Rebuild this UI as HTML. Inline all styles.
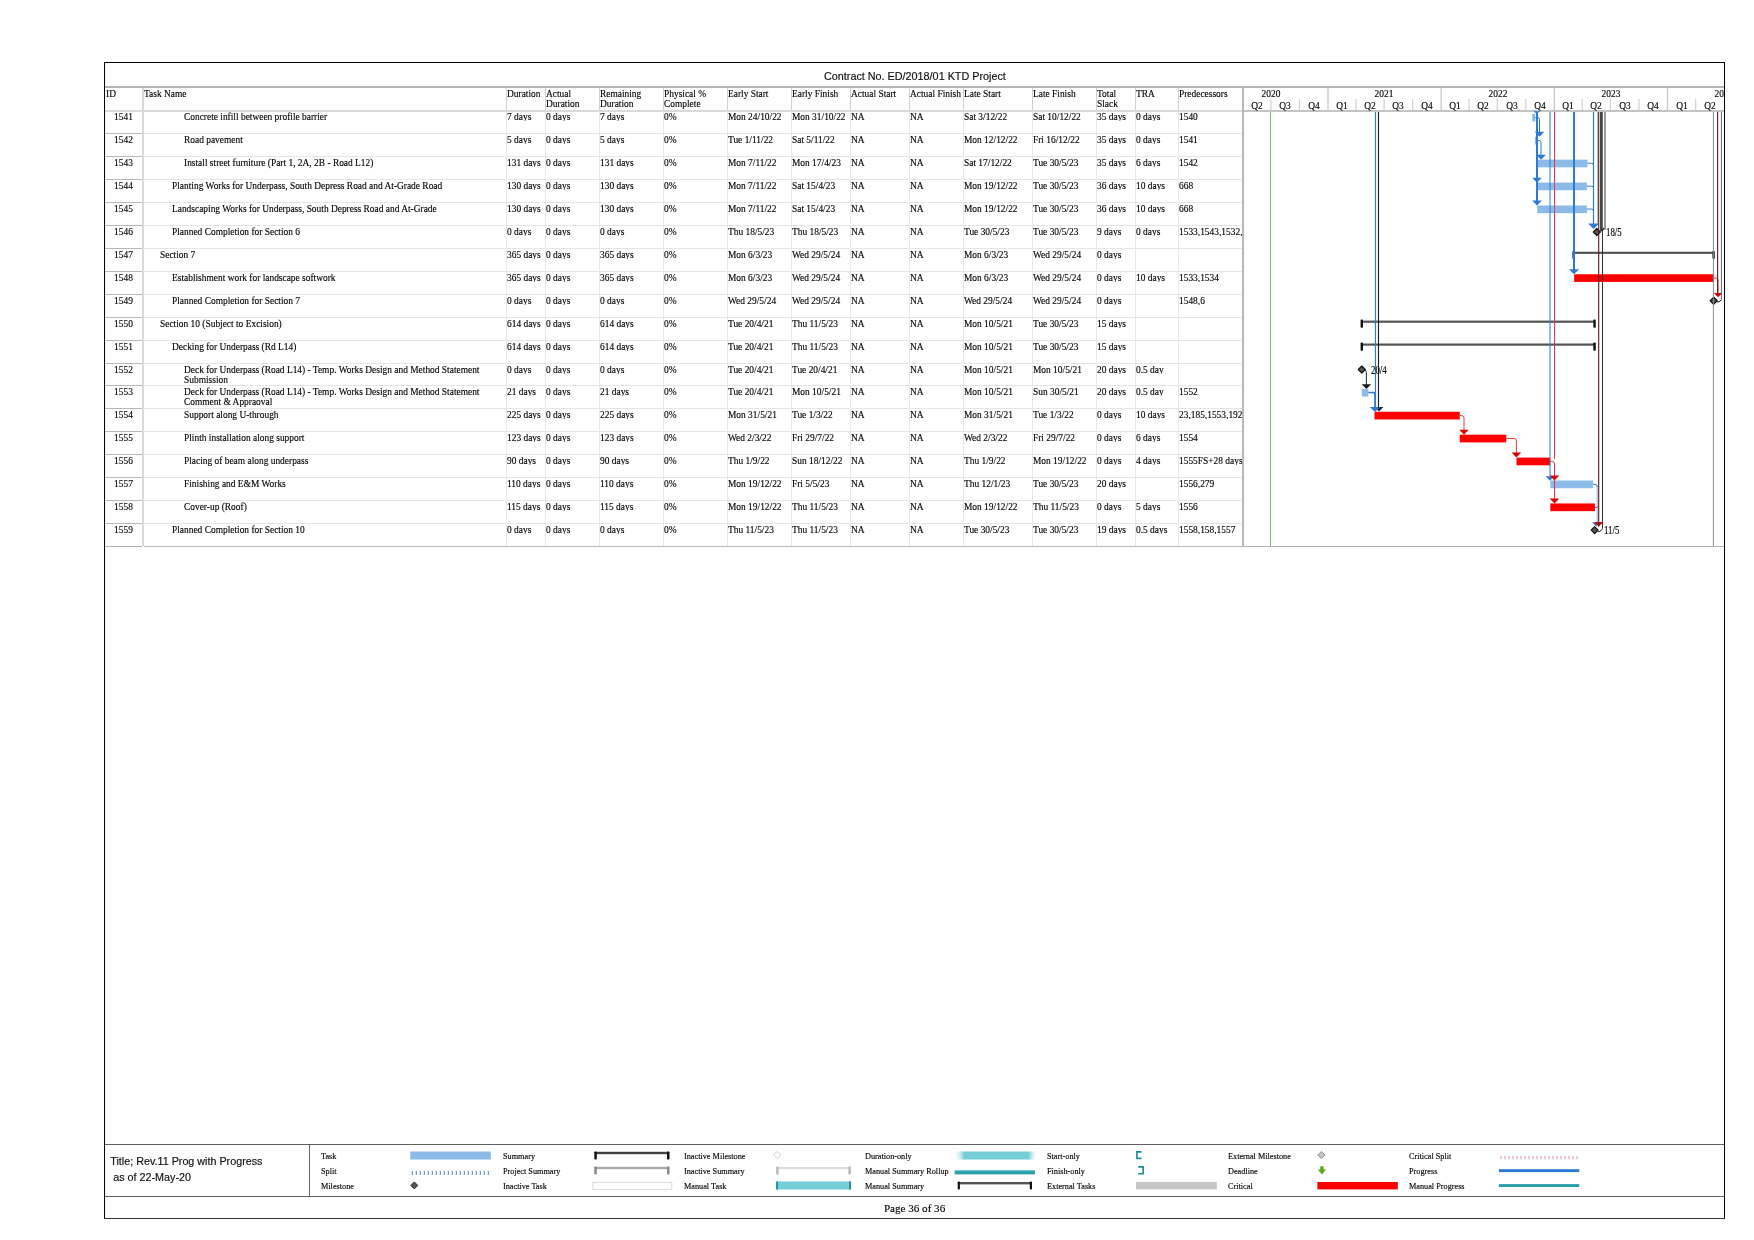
<!DOCTYPE html>
<html><head><meta charset="utf-8"><title>Gantt</title>
<style>
html,body{margin:0;padding:0;background:#fff;}
body{width:1754px;height:1240px;position:relative;overflow:hidden;}
.t{position:absolute;white-space:nowrap;transform-origin:0 0;color:#000;-webkit-text-stroke:0.15px #000;}
#tx{position:absolute;left:0;top:0;width:1754px;height:1240px;will-change:transform;}
.c{text-align:center;transform-origin:50% 0 !important;}
svg{position:absolute;left:0;top:0;}
</style></head><body>
<svg width="1754" height="1240" viewBox="0 0 1754 1240" shape-rendering="auto">
<rect x="105.00" y="86.00" width="1619.00" height="2.00" fill="#b4b4b4" />
<rect x="105.00" y="110.00" width="1137.00" height="2.00" fill="#d9d9d9" />
<rect x="1244.00" y="110.00" width="480.00" height="2.00" fill="#c4c4c4" />
<line x1="105.00" y1="133.50" x2="142.00" y2="133.50" stroke="#b8b8b8" stroke-width="1" />
<line x1="144.00" y1="133.50" x2="1242.00" y2="133.50" stroke="#e6e6e6" stroke-width="1" />
<line x1="105.00" y1="156.50" x2="142.00" y2="156.50" stroke="#b8b8b8" stroke-width="1" />
<line x1="144.00" y1="156.50" x2="1242.00" y2="156.50" stroke="#e6e6e6" stroke-width="1" />
<line x1="105.00" y1="179.50" x2="142.00" y2="179.50" stroke="#b8b8b8" stroke-width="1" />
<line x1="144.00" y1="179.50" x2="1242.00" y2="179.50" stroke="#e6e6e6" stroke-width="1" />
<line x1="105.00" y1="202.50" x2="142.00" y2="202.50" stroke="#b8b8b8" stroke-width="1" />
<line x1="144.00" y1="202.50" x2="1242.00" y2="202.50" stroke="#e6e6e6" stroke-width="1" />
<line x1="105.00" y1="225.50" x2="142.00" y2="225.50" stroke="#b8b8b8" stroke-width="1" />
<line x1="144.00" y1="225.50" x2="1242.00" y2="225.50" stroke="#e6e6e6" stroke-width="1" />
<line x1="105.00" y1="248.50" x2="142.00" y2="248.50" stroke="#b8b8b8" stroke-width="1" />
<line x1="144.00" y1="248.50" x2="1242.00" y2="248.50" stroke="#e6e6e6" stroke-width="1" />
<line x1="105.00" y1="271.50" x2="142.00" y2="271.50" stroke="#b8b8b8" stroke-width="1" />
<line x1="144.00" y1="271.50" x2="1242.00" y2="271.50" stroke="#e6e6e6" stroke-width="1" />
<line x1="105.00" y1="294.50" x2="142.00" y2="294.50" stroke="#b8b8b8" stroke-width="1" />
<line x1="144.00" y1="294.50" x2="1242.00" y2="294.50" stroke="#e6e6e6" stroke-width="1" />
<line x1="105.00" y1="317.50" x2="142.00" y2="317.50" stroke="#b8b8b8" stroke-width="1" />
<line x1="144.00" y1="317.50" x2="1242.00" y2="317.50" stroke="#e6e6e6" stroke-width="1" />
<line x1="105.00" y1="340.50" x2="142.00" y2="340.50" stroke="#b8b8b8" stroke-width="1" />
<line x1="144.00" y1="340.50" x2="1242.00" y2="340.50" stroke="#e6e6e6" stroke-width="1" />
<line x1="105.00" y1="363.50" x2="142.00" y2="363.50" stroke="#b8b8b8" stroke-width="1" />
<line x1="144.00" y1="363.50" x2="1242.00" y2="363.50" stroke="#e6e6e6" stroke-width="1" />
<line x1="105.00" y1="385.50" x2="142.00" y2="385.50" stroke="#b8b8b8" stroke-width="1" />
<line x1="144.00" y1="385.50" x2="1242.00" y2="385.50" stroke="#e6e6e6" stroke-width="1" />
<line x1="105.00" y1="408.50" x2="142.00" y2="408.50" stroke="#b8b8b8" stroke-width="1" />
<line x1="144.00" y1="408.50" x2="1242.00" y2="408.50" stroke="#e6e6e6" stroke-width="1" />
<line x1="105.00" y1="431.50" x2="142.00" y2="431.50" stroke="#b8b8b8" stroke-width="1" />
<line x1="144.00" y1="431.50" x2="1242.00" y2="431.50" stroke="#e6e6e6" stroke-width="1" />
<line x1="105.00" y1="454.50" x2="142.00" y2="454.50" stroke="#b8b8b8" stroke-width="1" />
<line x1="144.00" y1="454.50" x2="1242.00" y2="454.50" stroke="#e6e6e6" stroke-width="1" />
<line x1="105.00" y1="477.50" x2="142.00" y2="477.50" stroke="#b8b8b8" stroke-width="1" />
<line x1="144.00" y1="477.50" x2="1242.00" y2="477.50" stroke="#e6e6e6" stroke-width="1" />
<line x1="105.00" y1="500.50" x2="142.00" y2="500.50" stroke="#b8b8b8" stroke-width="1" />
<line x1="144.00" y1="500.50" x2="1242.00" y2="500.50" stroke="#e6e6e6" stroke-width="1" />
<line x1="105.00" y1="523.50" x2="142.00" y2="523.50" stroke="#b8b8b8" stroke-width="1" />
<line x1="144.00" y1="523.50" x2="1242.00" y2="523.50" stroke="#e6e6e6" stroke-width="1" />
<line x1="105.00" y1="546.50" x2="142.00" y2="546.50" stroke="#b0b0b0" stroke-width="1" />
<line x1="144.00" y1="546.50" x2="1242.00" y2="546.50" stroke="#b8b8b8" stroke-width="1" />
<rect x="142.00" y="88.00" width="2.00" height="458.00" fill="#d9d9d9" />
<line x1="506.50" y1="88.00" x2="506.50" y2="110.00" stroke="#d0d0d0" stroke-width="1" />
<line x1="506.50" y1="112.00" x2="506.50" y2="546.00" stroke="#e8e8e8" stroke-width="1" />
<line x1="545.50" y1="88.00" x2="545.50" y2="110.00" stroke="#d0d0d0" stroke-width="1" />
<line x1="545.50" y1="112.00" x2="545.50" y2="546.00" stroke="#e8e8e8" stroke-width="1" />
<line x1="599.50" y1="88.00" x2="599.50" y2="110.00" stroke="#d0d0d0" stroke-width="1" />
<line x1="599.50" y1="112.00" x2="599.50" y2="546.00" stroke="#e8e8e8" stroke-width="1" />
<line x1="663.50" y1="88.00" x2="663.50" y2="110.00" stroke="#d0d0d0" stroke-width="1" />
<line x1="663.50" y1="112.00" x2="663.50" y2="546.00" stroke="#e8e8e8" stroke-width="1" />
<line x1="727.50" y1="88.00" x2="727.50" y2="110.00" stroke="#d0d0d0" stroke-width="1" />
<line x1="727.50" y1="112.00" x2="727.50" y2="546.00" stroke="#e8e8e8" stroke-width="1" />
<line x1="791.50" y1="88.00" x2="791.50" y2="110.00" stroke="#d0d0d0" stroke-width="1" />
<line x1="791.50" y1="112.00" x2="791.50" y2="546.00" stroke="#e8e8e8" stroke-width="1" />
<line x1="850.50" y1="88.00" x2="850.50" y2="110.00" stroke="#d0d0d0" stroke-width="1" />
<line x1="850.50" y1="112.00" x2="850.50" y2="546.00" stroke="#e8e8e8" stroke-width="1" />
<line x1="909.50" y1="88.00" x2="909.50" y2="110.00" stroke="#d0d0d0" stroke-width="1" />
<line x1="909.50" y1="112.00" x2="909.50" y2="546.00" stroke="#e8e8e8" stroke-width="1" />
<line x1="963.50" y1="88.00" x2="963.50" y2="110.00" stroke="#d0d0d0" stroke-width="1" />
<line x1="963.50" y1="112.00" x2="963.50" y2="546.00" stroke="#e8e8e8" stroke-width="1" />
<line x1="1032.50" y1="88.00" x2="1032.50" y2="110.00" stroke="#d0d0d0" stroke-width="1" />
<line x1="1032.50" y1="112.00" x2="1032.50" y2="546.00" stroke="#e8e8e8" stroke-width="1" />
<line x1="1096.50" y1="88.00" x2="1096.50" y2="110.00" stroke="#d0d0d0" stroke-width="1" />
<line x1="1096.50" y1="112.00" x2="1096.50" y2="546.00" stroke="#e8e8e8" stroke-width="1" />
<line x1="1135.50" y1="88.00" x2="1135.50" y2="110.00" stroke="#d0d0d0" stroke-width="1" />
<line x1="1135.50" y1="112.00" x2="1135.50" y2="546.00" stroke="#e8e8e8" stroke-width="1" />
<line x1="1178.50" y1="88.00" x2="1178.50" y2="110.00" stroke="#d0d0d0" stroke-width="1" />
<line x1="1178.50" y1="112.00" x2="1178.50" y2="546.00" stroke="#e8e8e8" stroke-width="1" />
<line x1="1244.00" y1="546.50" x2="1724.00" y2="546.50" stroke="#b0b0b0" stroke-width="1" />
<rect x="1242.00" y="88.00" width="2.00" height="459.00" fill="#b8b8b8" />
<line x1="1328.00" y1="88.00" x2="1328.00" y2="110.00" stroke="#c8c8c8" stroke-width="1.3" />
<line x1="1441.17" y1="88.00" x2="1441.17" y2="110.00" stroke="#c8c8c8" stroke-width="1.3" />
<line x1="1554.33" y1="88.00" x2="1554.33" y2="110.00" stroke="#c8c8c8" stroke-width="1.3" />
<line x1="1667.50" y1="88.00" x2="1667.50" y2="110.00" stroke="#c8c8c8" stroke-width="1.3" />
<line x1="1270.95" y1="99.00" x2="1270.95" y2="110.00" stroke="#d0d0d0" stroke-width="1.2" />
<line x1="1299.48" y1="99.00" x2="1299.48" y2="110.00" stroke="#d0d0d0" stroke-width="1.2" />
<line x1="1355.90" y1="99.00" x2="1355.90" y2="110.00" stroke="#d0d0d0" stroke-width="1.2" />
<line x1="1384.12" y1="99.00" x2="1384.12" y2="110.00" stroke="#d0d0d0" stroke-width="1.2" />
<line x1="1412.64" y1="99.00" x2="1412.64" y2="110.00" stroke="#d0d0d0" stroke-width="1.2" />
<line x1="1469.07" y1="99.00" x2="1469.07" y2="110.00" stroke="#d0d0d0" stroke-width="1.2" />
<line x1="1497.28" y1="99.00" x2="1497.28" y2="110.00" stroke="#d0d0d0" stroke-width="1.2" />
<line x1="1525.81" y1="99.00" x2="1525.81" y2="110.00" stroke="#d0d0d0" stroke-width="1.2" />
<line x1="1582.24" y1="99.00" x2="1582.24" y2="110.00" stroke="#d0d0d0" stroke-width="1.2" />
<line x1="1610.45" y1="99.00" x2="1610.45" y2="110.00" stroke="#d0d0d0" stroke-width="1.2" />
<line x1="1638.98" y1="99.00" x2="1638.98" y2="110.00" stroke="#d0d0d0" stroke-width="1.2" />
<line x1="1695.71" y1="99.00" x2="1695.71" y2="110.00" stroke="#d0d0d0" stroke-width="1.2" />
<rect x="104.00" y="62.00" width="1621.00" height="1.00" fill="#000" />
<rect x="104.00" y="62.00" width="1.00" height="1157.00" fill="#000" />
<rect x="1724.00" y="62.00" width="1.00" height="1157.00" fill="#000" />
<rect x="104.00" y="1218.00" width="1621.00" height="1.00" fill="#333" />
<rect x="105.00" y="1144.00" width="1619.00" height="1.00" fill="#606060" />
<rect x="105.00" y="1196.00" width="1619.00" height="1.00" fill="#606060" />
<rect x="309.00" y="1145.00" width="1.00" height="51.00" fill="#666" />
<rect x="1532.30" y="113.80" width="3.00" height="7.70" fill="#8cbbea" />
<rect x="1534.90" y="136.72" width="2.30" height="7.70" fill="#8cbbea" />
<rect x="1537.28" y="159.64" width="50.23" height="7.70" fill="#8cbbea" />
<rect x="1537.28" y="182.56" width="49.61" height="7.70" fill="#8cbbea" />
<rect x="1537.28" y="205.48" width="49.61" height="7.70" fill="#8cbbea" />
<path d="M1533.10 111.20 L1540.10 111.20 L1536.60 113.60 Z" fill="#2b7bd6"/>
<path d="M1535.42 117.60 H1537.50 Q1539.50 117.60 1539.50 119.60 V133.72" stroke="#2b7bd6" stroke-width="1" fill="none" />
<path d="M1534.70 131.72 L1544.30 131.72 L1539.50 136.72 Z" fill="#2b7bd6"/>
<path d="M1536.97 140.52 H1539.00 Q1541.00 140.52 1541.00 142.52 V156.64" stroke="#2b7bd6" stroke-width="1" fill="none" />
<path d="M1536.20 154.64 L1545.80 154.64 L1541.00 159.64 Z" fill="#2b7bd6"/>
<path d="M1532.20 177.66 L1541.80 177.66 L1537.00 182.66 Z" fill="#2b7bd6"/>
<path d="M1532.20 200.58 L1541.80 200.58 L1537.00 205.58 Z" fill="#2b7bd6"/>
<path d="M1587.51 163.24 H1591.50 Q1593.5 163.24 1593.5 165.24" stroke="#2b7bd6" stroke-width="1" fill="none" />
<path d="M1586.89 186.16 H1591.50 Q1593.5 186.16 1593.5 188.16" stroke="#2b7bd6" stroke-width="1" fill="none" />
<path d="M1586.89 209.08 H1591.50 Q1593.5 209.08 1593.5 211.08" stroke="#2b7bd6" stroke-width="1" fill="none" />
<path d="M1588.10 223.40 L1599.10 223.40 L1593.60 229.00 Z" fill="#2b7bd6"/>
<path d="M1596.81 228.50 L1600.31 232.00 L1596.81 235.50 L1593.31 232.00 Z" fill="#555" stroke="#111" stroke-width="1.2" stroke-linejoin="round"/>
<path d="M1600.5 231.10 L1604.5 228.10" stroke="#111" stroke-width="1.6" fill="none" />
<rect x="1574.18" y="251.72" width="139.83" height="2.20" fill="#555" />
<rect x="1572.38" y="250.92" width="2.40" height="8.00" fill="#222" rx="0.8"/>
<rect x="1712.41" y="250.92" width="2.40" height="8.00" fill="#222" rx="0.8"/>
<path d="M1569.00 269.24 L1579.00 269.24 L1574.00 274.24 Z" fill="#2b7bd6"/>
<rect x="1574.18" y="274.24" width="139.83" height="7.70" fill="#ff0000" />
<path d="M1714.01 278.04 H1716.00 Q1718 278.04 1718 280.04 V293.86" stroke="#e83a3a" stroke-width="1" fill="none" />
<path d="M1713.80 293.06 L1722.20 293.06 L1718.00 297.26 Z" fill="#dd0000"/>
<path d="M1713.70 297.26 L1717.20 300.76 L1713.70 304.26 L1710.20 300.76 Z" fill="#555" stroke="#111" stroke-width="1.2" stroke-linejoin="round"/>
<path d="M1716.5 301.86 Q1719 302.86 1721.4 299.86" stroke="#111" stroke-width="1" fill="none" />
<rect x="1361.79" y="320.58" width="233.15" height="2.20" fill="#555" />
<rect x="1360.59" y="319.58" width="2.40" height="8.20" fill="#111" rx="0.8"/>
<rect x="1593.35" y="319.58" width="2.40" height="8.20" fill="#111" rx="0.8"/>
<rect x="1361.79" y="343.50" width="233.15" height="2.20" fill="#555" />
<rect x="1360.59" y="342.50" width="2.40" height="8.20" fill="#111" rx="0.8"/>
<rect x="1593.35" y="342.50" width="2.40" height="8.20" fill="#111" rx="0.8"/>
<path d="M1361.79 366.02 L1365.29 369.52 L1361.79 373.02 L1358.29 369.52 Z" fill="#555" stroke="#111" stroke-width="1.2" stroke-linejoin="round"/>
<path d="M1364.79 370.12 Q1366.39 370.52 1366.39 372.62 V385.54" stroke="#222" stroke-width="1" fill="none" />
<path d="M1361.59 384.14 L1371.19 384.14 L1366.39 388.94 Z" fill="#1a1a1a"/>
<rect x="1361.79" y="388.84" width="6.51" height="7.70" fill="#8cbbea" />
<path d="M1368.31 392.54 H1373.00 Q1375 392.54 1375 395.04 V407.96" stroke="#2b7bd6" stroke-width="1.6" fill="none" />
<path d="M1374.70 407.06 L1383.30 407.06 L1379.00 411.56 Z" fill="#1a1a1a"/>
<path d="M1369.80 406.96 L1380.20 406.96 L1375.00 411.96 Z" fill="#2b7bd6"/>
<rect x="1374.51" y="411.76" width="85.26" height="7.70" fill="#ff0000" />
<rect x="1459.77" y="434.68" width="46.51" height="7.70" fill="#ff0000" />
<rect x="1516.51" y="457.60" width="33.79" height="7.70" fill="#ff0000" />
<rect x="1550.30" y="480.52" width="42.79" height="7.70" fill="#8cbbea" />
<rect x="1550.30" y="503.44" width="44.65" height="7.70" fill="#ff0000" />
<path d="M1459.77 415.56 H1461.50 Q1464.00 415.56 1464.00 418.06 V431.68" stroke="#e83a3a" stroke-width="1" fill="none" />
<path d="M1459.20 429.68 L1468.80 429.68 L1464.00 434.68 Z" fill="#dd0000"/>
<path d="M1506.28 438.48 H1513.90 Q1516.40 438.48 1516.40 440.98 V454.60" stroke="#e83a3a" stroke-width="1" fill="none" />
<path d="M1511.60 452.60 L1521.20 452.60 L1516.40 457.60 Z" fill="#dd0000"/>
<path d="M1550.30 461.40 H1552.50 Q1554.5 461.40 1554.5 463.80 V500.14" stroke="#e83a3a" stroke-width="1" fill="none" />
<path d="M1545.60 476.22 L1554.40 476.22 L1550.00 480.72 Z" fill="#2b7bd6"/>
<path d="M1549.70 475.62 L1559.30 475.62 L1554.50 480.62 Z" fill="#dd0000"/>
<path d="M1549.70 498.54 L1559.30 498.54 L1554.50 503.54 Z" fill="#dd0000"/>
<path d="M1593.09 484.32 H1595.00 Q1597.2 484.32 1597.2 486.72" stroke="#2b7bd6" stroke-width="1" fill="none" />
<path d="M1594.95 507.24 H1598.50" stroke="#e83a3a" stroke-width="1" fill="none" />
<path d="M1592.00 522.26 L1600.40 522.26 L1596.20 526.46 Z" fill="#2b7bd6"/>
<path d="M1594.20 522.06 L1603.40 522.06 L1598.80 526.46 Z" fill="#dd0000"/>
<path d="M1594.64 526.66 L1598.14 530.16 L1594.64 533.66 L1591.14 530.16 Z" fill="#555" stroke="#111" stroke-width="1.2" stroke-linejoin="round"/>
<path d="M1597.64 531.06 Q1599.64 533.06 1602.50 528.56" stroke="#222" stroke-width="1" fill="none" />
<line x1="1270.50" y1="112.00" x2="1270.50" y2="546.00" stroke="#78b878" stroke-width="1" />
<line x1="1375.50" y1="112.00" x2="1375.50" y2="407.96" stroke="#2b7bd6" stroke-width="1.2" />
<line x1="1378.50" y1="112.00" x2="1378.50" y2="407.96" stroke="#1a1a1a" stroke-width="1.1" />
<line x1="1550.00" y1="112.00" x2="1550.00" y2="476.72" stroke="#2b7bd6" stroke-width="2" stroke-opacity="0.5"/>
<line x1="1554.50" y1="112.00" x2="1554.50" y2="458.80" stroke="#e83a3a" stroke-width="1" />
<line x1="1537.00" y1="112.00" x2="1537.00" y2="201.68" stroke="#2b7bd6" stroke-width="2" />
<line x1="1574.00" y1="112.00" x2="1574.00" y2="269.94" stroke="#2b7bd6" stroke-width="2" />
<line x1="1593.50" y1="112.00" x2="1593.50" y2="224.10" stroke="#2b7bd6" stroke-width="1.2" />
<line x1="1597.60" y1="112.00" x2="1597.60" y2="224.60" stroke="#2b7bd6" stroke-width="1.1" stroke-opacity="0.45"/>
<line x1="1597.20" y1="485.72" x2="1597.20" y2="522.56" stroke="#2b7bd6" stroke-width="1.2" stroke-opacity="0.5"/>
<line x1="1598.70" y1="112.00" x2="1598.70" y2="526.56" stroke="#5a1818" stroke-width="1.1" />
<rect x="1600.00" y="112.00" width="2.80" height="118.30" fill="#464646" />
<line x1="1602.50" y1="229.60" x2="1602.50" y2="528.56" stroke="#333" stroke-width="1" />
<line x1="1605.00" y1="112.00" x2="1605.00" y2="229.60" stroke="#7a7a7a" stroke-width="1.5" />
<line x1="1713.40" y1="112.00" x2="1713.40" y2="546.00" stroke="#8a8a8a" stroke-width="1" />
<line x1="1717.60" y1="112.00" x2="1717.60" y2="292.86" stroke="#5a1a1a" stroke-width="1.1" />
<line x1="1721.40" y1="112.00" x2="1721.40" y2="299.36" stroke="#6a6a6a" stroke-width="1" />
<rect x="410.30" y="1151.50" width="80.50" height="8.00" fill="#8cbbea" />
<rect x="411.80" y="1171.00" width="0.90" height="4.00" fill="#3a76a8" />
<rect x="415.80" y="1171.00" width="0.90" height="4.00" fill="#3a76a8" />
<rect x="419.80" y="1171.00" width="0.90" height="4.00" fill="#3a76a8" />
<rect x="423.80" y="1171.00" width="0.90" height="4.00" fill="#3a76a8" />
<rect x="427.80" y="1171.00" width="0.90" height="4.00" fill="#3a76a8" />
<rect x="431.80" y="1171.00" width="0.90" height="4.00" fill="#3a76a8" />
<rect x="435.80" y="1171.00" width="0.90" height="4.00" fill="#3a76a8" />
<rect x="439.80" y="1171.00" width="0.90" height="4.00" fill="#3a76a8" />
<rect x="443.80" y="1171.00" width="0.90" height="4.00" fill="#3a76a8" />
<rect x="447.80" y="1171.00" width="0.90" height="4.00" fill="#3a76a8" />
<rect x="451.80" y="1171.00" width="0.90" height="4.00" fill="#3a76a8" />
<rect x="455.80" y="1171.00" width="0.90" height="4.00" fill="#3a76a8" />
<rect x="459.80" y="1171.00" width="0.90" height="4.00" fill="#3a76a8" />
<rect x="463.80" y="1171.00" width="0.90" height="4.00" fill="#3a76a8" />
<rect x="467.80" y="1171.00" width="0.90" height="4.00" fill="#3a76a8" />
<rect x="471.80" y="1171.00" width="0.90" height="4.00" fill="#3a76a8" />
<rect x="475.80" y="1171.00" width="0.90" height="4.00" fill="#3a76a8" />
<rect x="479.80" y="1171.00" width="0.90" height="4.00" fill="#3a76a8" />
<rect x="483.80" y="1171.00" width="0.90" height="4.00" fill="#3a76a8" />
<rect x="487.80" y="1171.00" width="0.90" height="4.00" fill="#3a76a8" />
<path d="M414.30 1181.90 L417.80 1185.40 L414.30 1188.90 L410.80 1185.40 Z" fill="#555" stroke="#222" stroke-width="0.9" stroke-linejoin="round"/>
<rect x="595.50" y="1151.80" width="73.00" height="2.40" fill="#444" />
<rect x="594.30" y="1151.50" width="2.50" height="8.00" fill="#111" rx="0.8"/>
<rect x="667.00" y="1151.50" width="2.50" height="8.00" fill="#111" rx="0.8"/>
<rect x="595.50" y="1166.80" width="73.00" height="2.40" fill="#aaa" />
<rect x="594.30" y="1166.50" width="2.50" height="8.00" fill="#888" rx="0.8"/>
<rect x="667.00" y="1166.50" width="2.50" height="8.00" fill="#888" rx="0.8"/>
<rect x="592.8" y="1182.4" width="79" height="7" fill="#fff" stroke="#dcdcdc" stroke-width="1"/>
<path d="M777.20 1151.40 L780.80 1155.00 L777.20 1158.60 L773.60 1155.00 Z" fill="#fff" stroke="#cfcfcf" stroke-width="1" stroke-linejoin="round"/>
<rect x="777.50" y="1167.00" width="72.00" height="2.20" fill="#dcdcdc" />
<rect x="776.20" y="1166.50" width="2.40" height="8.00" fill="#b8b8b8" rx="0.8"/>
<rect x="848.40" y="1166.50" width="2.40" height="8.00" fill="#b8b8b8" rx="0.8"/>
<rect x="776.20" y="1181.50" width="74.70" height="8.00" fill="#75cdd6" />
<rect x="776.20" y="1181.50" width="1.80" height="8.00" fill="#1c8c96" />
<rect x="849.10" y="1181.50" width="1.80" height="8.00" fill="#1c8c96" />
<defs><linearGradient id="gd" x1="0" x2="1" y1="0" y2="0"><stop offset="0" stop-color="#ffffff"/><stop offset="0.06" stop-color="#d6f0f3"/><stop offset="0.12" stop-color="#75cdd6"/><stop offset="0.91" stop-color="#75cdd6"/><stop offset="0.97" stop-color="#d6f0f3"/><stop offset="1" stop-color="#ffffff"/></linearGradient></defs>
<rect x="954.7" y="1151.5" width="80.6" height="8" fill="url(#gd)"/>
<rect x="954.70" y="1170.40" width="80.20" height="4.00" fill="#2aa2ab" />
<rect x="958.80" y="1182.00" width="72.00" height="2.40" fill="#555" />
<rect x="957.70" y="1181.50" width="2.20" height="8.00" fill="#111" rx="0.8"/>
<rect x="1029.80" y="1181.50" width="2.20" height="8.00" fill="#111" rx="0.8"/>
<path d="M1141.5 1151.9 H1136.9 V1158.4 H1141.5" stroke="#1c8c96" stroke-width="1.6" fill="none" />
<path d="M1138.2 1166.9 H1143.2 V1173.8 H1138.2" stroke="#1c8c96" stroke-width="1.6" fill="none" />
<rect x="1136.00" y="1181.90" width="80.80" height="7.50" fill="#c6c6c6" />
<path d="M1321.40 1151.40 L1325.00 1155.00 L1321.40 1158.60 L1317.80 1155.00 Z" fill="#c4c4c4" stroke="#8a8a8a" stroke-width="0.9" stroke-linejoin="round"/>
<path d="M1320.2 1166.2 H1323.6 V1169.6 H1326 L1321.9 1174.4 L1317.8 1169.6 H1320.2 Z" fill="#5aaa1c"/>
<rect x="1317.40" y="1182.00" width="80.40" height="7.40" fill="#ff0000" />
<rect x="1500.60" y="1156.00" width="0.90" height="3.20" fill="#d9889a" />
<rect x="1504.60" y="1156.00" width="0.90" height="3.20" fill="#d9889a" />
<rect x="1508.60" y="1156.00" width="0.90" height="3.20" fill="#d9889a" />
<rect x="1512.60" y="1156.00" width="0.90" height="3.20" fill="#d9889a" />
<rect x="1516.60" y="1156.00" width="0.90" height="3.20" fill="#d9889a" />
<rect x="1520.60" y="1156.00" width="0.90" height="3.20" fill="#d9889a" />
<rect x="1524.60" y="1156.00" width="0.90" height="3.20" fill="#d9889a" />
<rect x="1528.60" y="1156.00" width="0.90" height="3.20" fill="#d9889a" />
<rect x="1532.60" y="1156.00" width="0.90" height="3.20" fill="#d9889a" />
<rect x="1536.60" y="1156.00" width="0.90" height="3.20" fill="#d9889a" />
<rect x="1540.60" y="1156.00" width="0.90" height="3.20" fill="#d9889a" />
<rect x="1544.60" y="1156.00" width="0.90" height="3.20" fill="#d9889a" />
<rect x="1548.60" y="1156.00" width="0.90" height="3.20" fill="#d9889a" />
<rect x="1552.60" y="1156.00" width="0.90" height="3.20" fill="#d9889a" />
<rect x="1556.60" y="1156.00" width="0.90" height="3.20" fill="#d9889a" />
<rect x="1560.60" y="1156.00" width="0.90" height="3.20" fill="#d9889a" />
<rect x="1564.60" y="1156.00" width="0.90" height="3.20" fill="#d9889a" />
<rect x="1568.60" y="1156.00" width="0.90" height="3.20" fill="#d9889a" />
<rect x="1572.60" y="1156.00" width="0.90" height="3.20" fill="#d9889a" />
<rect x="1576.60" y="1156.00" width="0.90" height="3.20" fill="#d9889a" />
<rect x="1498.90" y="1169.20" width="80.30" height="2.90" fill="#2b7bd6" />
<rect x="1498.90" y="1184.10" width="80.30" height="2.90" fill="#29a0a8" />
</svg>
<div id="tx">
<div class="t" style="left:824px;top:68.9px;font-family:'Liberation Sans',Arial,sans-serif;font-size:10.8px;line-height:14px;color:#111">Contract No. ED/2018/01 KTD Project</div>
<div class="t" style="left:105.60px;top:87.90px;font-size:11.0px;line-height:10.0px;transform:scaleX(0.855);font-family:'Liberation Serif','Times New Roman',serif;color:#000;">ID</div>
<div class="t" style="left:143.90px;top:87.90px;font-size:11.0px;line-height:10.0px;transform:scaleX(0.855);font-family:'Liberation Serif','Times New Roman',serif;color:#000;">Task Name</div>
<div class="t" style="left:506.90px;top:87.90px;font-size:11.0px;line-height:10.0px;transform:scaleX(0.855);font-family:'Liberation Serif','Times New Roman',serif;color:#000;">Duration</div>
<div class="t" style="left:545.90px;top:87.90px;font-size:11.0px;line-height:10.0px;transform:scaleX(0.855);font-family:'Liberation Serif','Times New Roman',serif;color:#000;">Actual<br>Duration</div>
<div class="t" style="left:599.90px;top:87.90px;font-size:11.0px;line-height:10.0px;transform:scaleX(0.855);font-family:'Liberation Serif','Times New Roman',serif;color:#000;">Remaining<br>Duration</div>
<div class="t" style="left:663.90px;top:87.90px;font-size:11.0px;line-height:10.0px;transform:scaleX(0.855);font-family:'Liberation Serif','Times New Roman',serif;color:#000;">Physical %<br>Complete</div>
<div class="t" style="left:727.90px;top:87.90px;font-size:11.0px;line-height:10.0px;transform:scaleX(0.855);font-family:'Liberation Serif','Times New Roman',serif;color:#000;">Early Start</div>
<div class="t" style="left:791.90px;top:87.90px;font-size:11.0px;line-height:10.0px;transform:scaleX(0.855);font-family:'Liberation Serif','Times New Roman',serif;color:#000;">Early Finish</div>
<div class="t" style="left:850.90px;top:87.90px;font-size:11.0px;line-height:10.0px;transform:scaleX(0.855);font-family:'Liberation Serif','Times New Roman',serif;color:#000;">Actual Start</div>
<div class="t" style="left:909.90px;top:87.90px;font-size:11.0px;line-height:10.0px;transform:scaleX(0.855);font-family:'Liberation Serif','Times New Roman',serif;color:#000;">Actual Finish</div>
<div class="t" style="left:963.90px;top:87.90px;font-size:11.0px;line-height:10.0px;transform:scaleX(0.855);font-family:'Liberation Serif','Times New Roman',serif;color:#000;">Late Start</div>
<div class="t" style="left:1032.90px;top:87.90px;font-size:11.0px;line-height:10.0px;transform:scaleX(0.855);font-family:'Liberation Serif','Times New Roman',serif;color:#000;">Late Finish</div>
<div class="t" style="left:1096.90px;top:87.90px;font-size:11.0px;line-height:10.0px;transform:scaleX(0.855);font-family:'Liberation Serif','Times New Roman',serif;color:#000;">Total<br>Slack</div>
<div class="t" style="left:1135.90px;top:87.90px;font-size:11.0px;line-height:10.0px;transform:scaleX(0.855);font-family:'Liberation Serif','Times New Roman',serif;color:#000;">TRA</div>
<div class="t" style="left:1178.90px;top:87.90px;font-size:11.0px;line-height:10.0px;transform:scaleX(0.855);font-family:'Liberation Serif','Times New Roman',serif;color:#000;">Predecessors</div>
<div style="position:absolute;left:1244px;top:87px;width:479.5px;height:24px;overflow:hidden">
<div style="position:absolute;left:-1244px;top:-87px;width:1754px;height:200px">
<div class="t c" style="left:1241.26px;width:60px;top:88.09px;font-size:11.0px;line-height:10.0px;transform:scaleX(0.855);font-family:'Liberation Serif','Times New Roman',serif">2020</div>
<div class="t c" style="left:1354.43px;width:60px;top:88.09px;font-size:11.0px;line-height:10.0px;transform:scaleX(0.855);font-family:'Liberation Serif','Times New Roman',serif">2021</div>
<div class="t c" style="left:1467.59px;width:60px;top:88.09px;font-size:11.0px;line-height:10.0px;transform:scaleX(0.855);font-family:'Liberation Serif','Times New Roman',serif">2022</div>
<div class="t c" style="left:1580.76px;width:60px;top:88.09px;font-size:11.0px;line-height:10.0px;transform:scaleX(0.855);font-family:'Liberation Serif','Times New Roman',serif">2023</div>
<div class="t c" style="left:1694.24px;width:60px;top:88.09px;font-size:11.0px;line-height:10.0px;transform:scaleX(0.855);font-family:'Liberation Serif','Times New Roman',serif">2024</div>
<div class="t c" style="left:1236.84px;width:40px;top:100.29px;font-size:11.0px;line-height:10.0px;transform:scaleX(0.855);font-family:'Liberation Serif','Times New Roman',serif">Q2</div>
<div class="t c" style="left:1265.21px;width:40px;top:100.29px;font-size:11.0px;line-height:10.0px;transform:scaleX(0.855);font-family:'Liberation Serif','Times New Roman',serif">Q3</div>
<div class="t c" style="left:1293.74px;width:40px;top:100.29px;font-size:11.0px;line-height:10.0px;transform:scaleX(0.855);font-family:'Liberation Serif','Times New Roman',serif">Q4</div>
<div class="t c" style="left:1321.95px;width:40px;top:100.29px;font-size:11.0px;line-height:10.0px;transform:scaleX(0.855);font-family:'Liberation Serif','Times New Roman',serif">Q1</div>
<div class="t c" style="left:1350.01px;width:40px;top:100.29px;font-size:11.0px;line-height:10.0px;transform:scaleX(0.855);font-family:'Liberation Serif','Times New Roman',serif">Q2</div>
<div class="t c" style="left:1378.38px;width:40px;top:100.29px;font-size:11.0px;line-height:10.0px;transform:scaleX(0.855);font-family:'Liberation Serif','Times New Roman',serif">Q3</div>
<div class="t c" style="left:1406.90px;width:40px;top:100.29px;font-size:11.0px;line-height:10.0px;transform:scaleX(0.855);font-family:'Liberation Serif','Times New Roman',serif">Q4</div>
<div class="t c" style="left:1435.12px;width:40px;top:100.29px;font-size:11.0px;line-height:10.0px;transform:scaleX(0.855);font-family:'Liberation Serif','Times New Roman',serif">Q1</div>
<div class="t c" style="left:1463.18px;width:40px;top:100.29px;font-size:11.0px;line-height:10.0px;transform:scaleX(0.855);font-family:'Liberation Serif','Times New Roman',serif">Q2</div>
<div class="t c" style="left:1491.55px;width:40px;top:100.29px;font-size:11.0px;line-height:10.0px;transform:scaleX(0.855);font-family:'Liberation Serif','Times New Roman',serif">Q3</div>
<div class="t c" style="left:1520.07px;width:40px;top:100.29px;font-size:11.0px;line-height:10.0px;transform:scaleX(0.855);font-family:'Liberation Serif','Times New Roman',serif">Q4</div>
<div class="t c" style="left:1548.29px;width:40px;top:100.29px;font-size:11.0px;line-height:10.0px;transform:scaleX(0.855);font-family:'Liberation Serif','Times New Roman',serif">Q1</div>
<div class="t c" style="left:1576.34px;width:40px;top:100.29px;font-size:11.0px;line-height:10.0px;transform:scaleX(0.855);font-family:'Liberation Serif','Times New Roman',serif">Q2</div>
<div class="t c" style="left:1604.71px;width:40px;top:100.29px;font-size:11.0px;line-height:10.0px;transform:scaleX(0.855);font-family:'Liberation Serif','Times New Roman',serif">Q3</div>
<div class="t c" style="left:1633.24px;width:40px;top:100.29px;font-size:11.0px;line-height:10.0px;transform:scaleX(0.855);font-family:'Liberation Serif','Times New Roman',serif">Q4</div>
<div class="t c" style="left:1661.61px;width:40px;top:100.29px;font-size:11.0px;line-height:10.0px;transform:scaleX(0.855);font-family:'Liberation Serif','Times New Roman',serif">Q1</div>
<div class="t c" style="left:1689.82px;width:40px;top:100.29px;font-size:11.0px;line-height:10.0px;transform:scaleX(0.855);font-family:'Liberation Serif','Times New Roman',serif">Q2</div>
</div></div>
<div class="t c" style="left:104px;width:39px;top:111.40px;font-size:11.0px;line-height:10.0px;transform:scaleX(0.855);font-family:'Liberation Serif','Times New Roman',serif">1541</div>
<div class="t" style="left:184.40px;top:111.40px;font-size:11.0px;line-height:10.0px;transform:scaleX(0.855);font-family:'Liberation Serif','Times New Roman',serif;color:#000;">Concrete infill between profile barrier</div>
<div class="t" style="left:507.00px;top:111.40px;font-size:11.0px;line-height:10.0px;transform:scaleX(0.855);font-family:'Liberation Serif','Times New Roman',serif;color:#000;width:43.74px;overflow:hidden;">7 days</div>
<div class="t" style="left:546.00px;top:111.40px;font-size:11.0px;line-height:10.0px;transform:scaleX(0.855);font-family:'Liberation Serif','Times New Roman',serif;color:#000;width:61.29px;overflow:hidden;">0 days</div>
<div class="t" style="left:600.00px;top:111.40px;font-size:11.0px;line-height:10.0px;transform:scaleX(0.855);font-family:'Liberation Serif','Times New Roman',serif;color:#000;width:72.98px;overflow:hidden;">7 days</div>
<div class="t" style="left:664.00px;top:111.40px;font-size:11.0px;line-height:10.0px;transform:scaleX(0.855);font-family:'Liberation Serif','Times New Roman',serif;color:#000;width:72.98px;overflow:hidden;">0%</div>
<div class="t" style="left:728.00px;top:111.40px;font-size:11.0px;line-height:10.0px;transform:scaleX(0.855);font-family:'Liberation Serif','Times New Roman',serif;color:#000;width:72.98px;overflow:hidden;">Mon 24/10/22</div>
<div class="t" style="left:792.00px;top:111.40px;font-size:11.0px;line-height:10.0px;transform:scaleX(0.855);font-family:'Liberation Serif','Times New Roman',serif;color:#000;width:67.13px;overflow:hidden;">Mon 31/10/22</div>
<div class="t" style="left:851.00px;top:111.40px;font-size:11.0px;line-height:10.0px;transform:scaleX(0.855);font-family:'Liberation Serif','Times New Roman',serif;color:#000;width:67.13px;overflow:hidden;">NA</div>
<div class="t" style="left:910.00px;top:111.40px;font-size:11.0px;line-height:10.0px;transform:scaleX(0.855);font-family:'Liberation Serif','Times New Roman',serif;color:#000;width:61.29px;overflow:hidden;">NA</div>
<div class="t" style="left:964.00px;top:111.40px;font-size:11.0px;line-height:10.0px;transform:scaleX(0.855);font-family:'Liberation Serif','Times New Roman',serif;color:#000;width:78.83px;overflow:hidden;">Sat 3/12/22</div>
<div class="t" style="left:1033.00px;top:111.40px;font-size:11.0px;line-height:10.0px;transform:scaleX(0.855);font-family:'Liberation Serif','Times New Roman',serif;color:#000;width:72.98px;overflow:hidden;">Sat 10/12/22</div>
<div class="t" style="left:1097.00px;top:111.40px;font-size:11.0px;line-height:10.0px;transform:scaleX(0.855);font-family:'Liberation Serif','Times New Roman',serif;color:#000;width:43.74px;overflow:hidden;">35 days</div>
<div class="t" style="left:1136.00px;top:111.40px;font-size:11.0px;line-height:10.0px;transform:scaleX(0.855);font-family:'Liberation Serif','Times New Roman',serif;color:#000;width:48.42px;overflow:hidden;">0 days</div>
<div class="t" style="left:1179.00px;top:111.40px;font-size:11.0px;line-height:10.0px;transform:scaleX(0.855);font-family:'Liberation Serif','Times New Roman',serif;color:#000;width:74.15px;overflow:hidden;">1540</div>
<div class="t c" style="left:104px;width:39px;top:134.32px;font-size:11.0px;line-height:10.0px;transform:scaleX(0.855);font-family:'Liberation Serif','Times New Roman',serif">1542</div>
<div class="t" style="left:184.40px;top:134.32px;font-size:11.0px;line-height:10.0px;transform:scaleX(0.855);font-family:'Liberation Serif','Times New Roman',serif;color:#000;">Road pavement</div>
<div class="t" style="left:507.00px;top:134.32px;font-size:11.0px;line-height:10.0px;transform:scaleX(0.855);font-family:'Liberation Serif','Times New Roman',serif;color:#000;width:43.74px;overflow:hidden;">5 days</div>
<div class="t" style="left:546.00px;top:134.32px;font-size:11.0px;line-height:10.0px;transform:scaleX(0.855);font-family:'Liberation Serif','Times New Roman',serif;color:#000;width:61.29px;overflow:hidden;">0 days</div>
<div class="t" style="left:600.00px;top:134.32px;font-size:11.0px;line-height:10.0px;transform:scaleX(0.855);font-family:'Liberation Serif','Times New Roman',serif;color:#000;width:72.98px;overflow:hidden;">5 days</div>
<div class="t" style="left:664.00px;top:134.32px;font-size:11.0px;line-height:10.0px;transform:scaleX(0.855);font-family:'Liberation Serif','Times New Roman',serif;color:#000;width:72.98px;overflow:hidden;">0%</div>
<div class="t" style="left:728.00px;top:134.32px;font-size:11.0px;line-height:10.0px;transform:scaleX(0.855);font-family:'Liberation Serif','Times New Roman',serif;color:#000;width:72.98px;overflow:hidden;">Tue 1/11/22</div>
<div class="t" style="left:792.00px;top:134.32px;font-size:11.0px;line-height:10.0px;transform:scaleX(0.855);font-family:'Liberation Serif','Times New Roman',serif;color:#000;width:67.13px;overflow:hidden;">Sat 5/11/22</div>
<div class="t" style="left:851.00px;top:134.32px;font-size:11.0px;line-height:10.0px;transform:scaleX(0.855);font-family:'Liberation Serif','Times New Roman',serif;color:#000;width:67.13px;overflow:hidden;">NA</div>
<div class="t" style="left:910.00px;top:134.32px;font-size:11.0px;line-height:10.0px;transform:scaleX(0.855);font-family:'Liberation Serif','Times New Roman',serif;color:#000;width:61.29px;overflow:hidden;">NA</div>
<div class="t" style="left:964.00px;top:134.32px;font-size:11.0px;line-height:10.0px;transform:scaleX(0.855);font-family:'Liberation Serif','Times New Roman',serif;color:#000;width:78.83px;overflow:hidden;">Mon 12/12/22</div>
<div class="t" style="left:1033.00px;top:134.32px;font-size:11.0px;line-height:10.0px;transform:scaleX(0.855);font-family:'Liberation Serif','Times New Roman',serif;color:#000;width:72.98px;overflow:hidden;">Fri 16/12/22</div>
<div class="t" style="left:1097.00px;top:134.32px;font-size:11.0px;line-height:10.0px;transform:scaleX(0.855);font-family:'Liberation Serif','Times New Roman',serif;color:#000;width:43.74px;overflow:hidden;">35 days</div>
<div class="t" style="left:1136.00px;top:134.32px;font-size:11.0px;line-height:10.0px;transform:scaleX(0.855);font-family:'Liberation Serif','Times New Roman',serif;color:#000;width:48.42px;overflow:hidden;">0 days</div>
<div class="t" style="left:1179.00px;top:134.32px;font-size:11.0px;line-height:10.0px;transform:scaleX(0.855);font-family:'Liberation Serif','Times New Roman',serif;color:#000;width:74.15px;overflow:hidden;">1541</div>
<div class="t c" style="left:104px;width:39px;top:157.24px;font-size:11.0px;line-height:10.0px;transform:scaleX(0.855);font-family:'Liberation Serif','Times New Roman',serif">1543</div>
<div class="t" style="left:184.40px;top:157.24px;font-size:11.0px;line-height:10.0px;transform:scaleX(0.855);font-family:'Liberation Serif','Times New Roman',serif;color:#000;">Install street furniture (Part 1, 2A, 2B - Road L12)</div>
<div class="t" style="left:507.00px;top:157.24px;font-size:11.0px;line-height:10.0px;transform:scaleX(0.855);font-family:'Liberation Serif','Times New Roman',serif;color:#000;width:43.74px;overflow:hidden;">131 days</div>
<div class="t" style="left:546.00px;top:157.24px;font-size:11.0px;line-height:10.0px;transform:scaleX(0.855);font-family:'Liberation Serif','Times New Roman',serif;color:#000;width:61.29px;overflow:hidden;">0 days</div>
<div class="t" style="left:600.00px;top:157.24px;font-size:11.0px;line-height:10.0px;transform:scaleX(0.855);font-family:'Liberation Serif','Times New Roman',serif;color:#000;width:72.98px;overflow:hidden;">131 days</div>
<div class="t" style="left:664.00px;top:157.24px;font-size:11.0px;line-height:10.0px;transform:scaleX(0.855);font-family:'Liberation Serif','Times New Roman',serif;color:#000;width:72.98px;overflow:hidden;">0%</div>
<div class="t" style="left:728.00px;top:157.24px;font-size:11.0px;line-height:10.0px;transform:scaleX(0.855);font-family:'Liberation Serif','Times New Roman',serif;color:#000;width:72.98px;overflow:hidden;">Mon 7/11/22</div>
<div class="t" style="left:792.00px;top:157.24px;font-size:11.0px;line-height:10.0px;transform:scaleX(0.855);font-family:'Liberation Serif','Times New Roman',serif;color:#000;width:67.13px;overflow:hidden;">Mon 17/4/23</div>
<div class="t" style="left:851.00px;top:157.24px;font-size:11.0px;line-height:10.0px;transform:scaleX(0.855);font-family:'Liberation Serif','Times New Roman',serif;color:#000;width:67.13px;overflow:hidden;">NA</div>
<div class="t" style="left:910.00px;top:157.24px;font-size:11.0px;line-height:10.0px;transform:scaleX(0.855);font-family:'Liberation Serif','Times New Roman',serif;color:#000;width:61.29px;overflow:hidden;">NA</div>
<div class="t" style="left:964.00px;top:157.24px;font-size:11.0px;line-height:10.0px;transform:scaleX(0.855);font-family:'Liberation Serif','Times New Roman',serif;color:#000;width:78.83px;overflow:hidden;">Sat 17/12/22</div>
<div class="t" style="left:1033.00px;top:157.24px;font-size:11.0px;line-height:10.0px;transform:scaleX(0.855);font-family:'Liberation Serif','Times New Roman',serif;color:#000;width:72.98px;overflow:hidden;">Tue 30/5/23</div>
<div class="t" style="left:1097.00px;top:157.24px;font-size:11.0px;line-height:10.0px;transform:scaleX(0.855);font-family:'Liberation Serif','Times New Roman',serif;color:#000;width:43.74px;overflow:hidden;">35 days</div>
<div class="t" style="left:1136.00px;top:157.24px;font-size:11.0px;line-height:10.0px;transform:scaleX(0.855);font-family:'Liberation Serif','Times New Roman',serif;color:#000;width:48.42px;overflow:hidden;">6 days</div>
<div class="t" style="left:1179.00px;top:157.24px;font-size:11.0px;line-height:10.0px;transform:scaleX(0.855);font-family:'Liberation Serif','Times New Roman',serif;color:#000;width:74.15px;overflow:hidden;">1542</div>
<div class="t c" style="left:104px;width:39px;top:180.16px;font-size:11.0px;line-height:10.0px;transform:scaleX(0.855);font-family:'Liberation Serif','Times New Roman',serif">1544</div>
<div class="t" style="left:172.30px;top:180.16px;font-size:11.0px;line-height:10.0px;transform:scaleX(0.855);font-family:'Liberation Serif','Times New Roman',serif;color:#000;">Planting Works for Underpass, South Depress Road and At-Grade Road</div>
<div class="t" style="left:507.00px;top:180.16px;font-size:11.0px;line-height:10.0px;transform:scaleX(0.855);font-family:'Liberation Serif','Times New Roman',serif;color:#000;width:43.74px;overflow:hidden;">130 days</div>
<div class="t" style="left:546.00px;top:180.16px;font-size:11.0px;line-height:10.0px;transform:scaleX(0.855);font-family:'Liberation Serif','Times New Roman',serif;color:#000;width:61.29px;overflow:hidden;">0 days</div>
<div class="t" style="left:600.00px;top:180.16px;font-size:11.0px;line-height:10.0px;transform:scaleX(0.855);font-family:'Liberation Serif','Times New Roman',serif;color:#000;width:72.98px;overflow:hidden;">130 days</div>
<div class="t" style="left:664.00px;top:180.16px;font-size:11.0px;line-height:10.0px;transform:scaleX(0.855);font-family:'Liberation Serif','Times New Roman',serif;color:#000;width:72.98px;overflow:hidden;">0%</div>
<div class="t" style="left:728.00px;top:180.16px;font-size:11.0px;line-height:10.0px;transform:scaleX(0.855);font-family:'Liberation Serif','Times New Roman',serif;color:#000;width:72.98px;overflow:hidden;">Mon 7/11/22</div>
<div class="t" style="left:792.00px;top:180.16px;font-size:11.0px;line-height:10.0px;transform:scaleX(0.855);font-family:'Liberation Serif','Times New Roman',serif;color:#000;width:67.13px;overflow:hidden;">Sat 15/4/23</div>
<div class="t" style="left:851.00px;top:180.16px;font-size:11.0px;line-height:10.0px;transform:scaleX(0.855);font-family:'Liberation Serif','Times New Roman',serif;color:#000;width:67.13px;overflow:hidden;">NA</div>
<div class="t" style="left:910.00px;top:180.16px;font-size:11.0px;line-height:10.0px;transform:scaleX(0.855);font-family:'Liberation Serif','Times New Roman',serif;color:#000;width:61.29px;overflow:hidden;">NA</div>
<div class="t" style="left:964.00px;top:180.16px;font-size:11.0px;line-height:10.0px;transform:scaleX(0.855);font-family:'Liberation Serif','Times New Roman',serif;color:#000;width:78.83px;overflow:hidden;">Mon 19/12/22</div>
<div class="t" style="left:1033.00px;top:180.16px;font-size:11.0px;line-height:10.0px;transform:scaleX(0.855);font-family:'Liberation Serif','Times New Roman',serif;color:#000;width:72.98px;overflow:hidden;">Tue 30/5/23</div>
<div class="t" style="left:1097.00px;top:180.16px;font-size:11.0px;line-height:10.0px;transform:scaleX(0.855);font-family:'Liberation Serif','Times New Roman',serif;color:#000;width:43.74px;overflow:hidden;">36 days</div>
<div class="t" style="left:1136.00px;top:180.16px;font-size:11.0px;line-height:10.0px;transform:scaleX(0.855);font-family:'Liberation Serif','Times New Roman',serif;color:#000;width:48.42px;overflow:hidden;">10 days</div>
<div class="t" style="left:1179.00px;top:180.16px;font-size:11.0px;line-height:10.0px;transform:scaleX(0.855);font-family:'Liberation Serif','Times New Roman',serif;color:#000;width:74.15px;overflow:hidden;">668</div>
<div class="t c" style="left:104px;width:39px;top:203.08px;font-size:11.0px;line-height:10.0px;transform:scaleX(0.855);font-family:'Liberation Serif','Times New Roman',serif">1545</div>
<div class="t" style="left:172.30px;top:203.08px;font-size:11.0px;line-height:10.0px;transform:scaleX(0.855);font-family:'Liberation Serif','Times New Roman',serif;color:#000;">Landscaping Works for Underpass, South Depress Road and At-Grade</div>
<div class="t" style="left:507.00px;top:203.08px;font-size:11.0px;line-height:10.0px;transform:scaleX(0.855);font-family:'Liberation Serif','Times New Roman',serif;color:#000;width:43.74px;overflow:hidden;">130 days</div>
<div class="t" style="left:546.00px;top:203.08px;font-size:11.0px;line-height:10.0px;transform:scaleX(0.855);font-family:'Liberation Serif','Times New Roman',serif;color:#000;width:61.29px;overflow:hidden;">0 days</div>
<div class="t" style="left:600.00px;top:203.08px;font-size:11.0px;line-height:10.0px;transform:scaleX(0.855);font-family:'Liberation Serif','Times New Roman',serif;color:#000;width:72.98px;overflow:hidden;">130 days</div>
<div class="t" style="left:664.00px;top:203.08px;font-size:11.0px;line-height:10.0px;transform:scaleX(0.855);font-family:'Liberation Serif','Times New Roman',serif;color:#000;width:72.98px;overflow:hidden;">0%</div>
<div class="t" style="left:728.00px;top:203.08px;font-size:11.0px;line-height:10.0px;transform:scaleX(0.855);font-family:'Liberation Serif','Times New Roman',serif;color:#000;width:72.98px;overflow:hidden;">Mon 7/11/22</div>
<div class="t" style="left:792.00px;top:203.08px;font-size:11.0px;line-height:10.0px;transform:scaleX(0.855);font-family:'Liberation Serif','Times New Roman',serif;color:#000;width:67.13px;overflow:hidden;">Sat 15/4/23</div>
<div class="t" style="left:851.00px;top:203.08px;font-size:11.0px;line-height:10.0px;transform:scaleX(0.855);font-family:'Liberation Serif','Times New Roman',serif;color:#000;width:67.13px;overflow:hidden;">NA</div>
<div class="t" style="left:910.00px;top:203.08px;font-size:11.0px;line-height:10.0px;transform:scaleX(0.855);font-family:'Liberation Serif','Times New Roman',serif;color:#000;width:61.29px;overflow:hidden;">NA</div>
<div class="t" style="left:964.00px;top:203.08px;font-size:11.0px;line-height:10.0px;transform:scaleX(0.855);font-family:'Liberation Serif','Times New Roman',serif;color:#000;width:78.83px;overflow:hidden;">Mon 19/12/22</div>
<div class="t" style="left:1033.00px;top:203.08px;font-size:11.0px;line-height:10.0px;transform:scaleX(0.855);font-family:'Liberation Serif','Times New Roman',serif;color:#000;width:72.98px;overflow:hidden;">Tue 30/5/23</div>
<div class="t" style="left:1097.00px;top:203.08px;font-size:11.0px;line-height:10.0px;transform:scaleX(0.855);font-family:'Liberation Serif','Times New Roman',serif;color:#000;width:43.74px;overflow:hidden;">36 days</div>
<div class="t" style="left:1136.00px;top:203.08px;font-size:11.0px;line-height:10.0px;transform:scaleX(0.855);font-family:'Liberation Serif','Times New Roman',serif;color:#000;width:48.42px;overflow:hidden;">10 days</div>
<div class="t" style="left:1179.00px;top:203.08px;font-size:11.0px;line-height:10.0px;transform:scaleX(0.855);font-family:'Liberation Serif','Times New Roman',serif;color:#000;width:74.15px;overflow:hidden;">668</div>
<div class="t c" style="left:104px;width:39px;top:226.00px;font-size:11.0px;line-height:10.0px;transform:scaleX(0.855);font-family:'Liberation Serif','Times New Roman',serif">1546</div>
<div class="t" style="left:172.30px;top:226.00px;font-size:11.0px;line-height:10.0px;transform:scaleX(0.855);font-family:'Liberation Serif','Times New Roman',serif;color:#000;">Planned Completion for Section 6</div>
<div class="t" style="left:507.00px;top:226.00px;font-size:11.0px;line-height:10.0px;transform:scaleX(0.855);font-family:'Liberation Serif','Times New Roman',serif;color:#000;width:43.74px;overflow:hidden;">0 days</div>
<div class="t" style="left:546.00px;top:226.00px;font-size:11.0px;line-height:10.0px;transform:scaleX(0.855);font-family:'Liberation Serif','Times New Roman',serif;color:#000;width:61.29px;overflow:hidden;">0 days</div>
<div class="t" style="left:600.00px;top:226.00px;font-size:11.0px;line-height:10.0px;transform:scaleX(0.855);font-family:'Liberation Serif','Times New Roman',serif;color:#000;width:72.98px;overflow:hidden;">0 days</div>
<div class="t" style="left:664.00px;top:226.00px;font-size:11.0px;line-height:10.0px;transform:scaleX(0.855);font-family:'Liberation Serif','Times New Roman',serif;color:#000;width:72.98px;overflow:hidden;">0%</div>
<div class="t" style="left:728.00px;top:226.00px;font-size:11.0px;line-height:10.0px;transform:scaleX(0.855);font-family:'Liberation Serif','Times New Roman',serif;color:#000;width:72.98px;overflow:hidden;">Thu 18/5/23</div>
<div class="t" style="left:792.00px;top:226.00px;font-size:11.0px;line-height:10.0px;transform:scaleX(0.855);font-family:'Liberation Serif','Times New Roman',serif;color:#000;width:67.13px;overflow:hidden;">Thu 18/5/23</div>
<div class="t" style="left:851.00px;top:226.00px;font-size:11.0px;line-height:10.0px;transform:scaleX(0.855);font-family:'Liberation Serif','Times New Roman',serif;color:#000;width:67.13px;overflow:hidden;">NA</div>
<div class="t" style="left:910.00px;top:226.00px;font-size:11.0px;line-height:10.0px;transform:scaleX(0.855);font-family:'Liberation Serif','Times New Roman',serif;color:#000;width:61.29px;overflow:hidden;">NA</div>
<div class="t" style="left:964.00px;top:226.00px;font-size:11.0px;line-height:10.0px;transform:scaleX(0.855);font-family:'Liberation Serif','Times New Roman',serif;color:#000;width:78.83px;overflow:hidden;">Tue 30/5/23</div>
<div class="t" style="left:1033.00px;top:226.00px;font-size:11.0px;line-height:10.0px;transform:scaleX(0.855);font-family:'Liberation Serif','Times New Roman',serif;color:#000;width:72.98px;overflow:hidden;">Tue 30/5/23</div>
<div class="t" style="left:1097.00px;top:226.00px;font-size:11.0px;line-height:10.0px;transform:scaleX(0.855);font-family:'Liberation Serif','Times New Roman',serif;color:#000;width:43.74px;overflow:hidden;">9 days</div>
<div class="t" style="left:1136.00px;top:226.00px;font-size:11.0px;line-height:10.0px;transform:scaleX(0.855);font-family:'Liberation Serif','Times New Roman',serif;color:#000;width:48.42px;overflow:hidden;">0 days</div>
<div class="t" style="left:1179.00px;top:226.00px;font-size:11.0px;line-height:10.0px;transform:scaleX(0.855);font-family:'Liberation Serif','Times New Roman',serif;color:#000;width:74.15px;overflow:hidden;">1533,1543,1532,1544</div>
<div class="t c" style="left:104px;width:39px;top:248.92px;font-size:11.0px;line-height:10.0px;transform:scaleX(0.855);font-family:'Liberation Serif','Times New Roman',serif">1547</div>
<div class="t" style="left:160.20px;top:248.92px;font-size:11.0px;line-height:10.0px;transform:scaleX(0.855);font-family:'Liberation Serif','Times New Roman',serif;color:#000;">Section 7</div>
<div class="t" style="left:507.00px;top:248.92px;font-size:11.0px;line-height:10.0px;transform:scaleX(0.855);font-family:'Liberation Serif','Times New Roman',serif;color:#000;width:43.74px;overflow:hidden;">365 days</div>
<div class="t" style="left:546.00px;top:248.92px;font-size:11.0px;line-height:10.0px;transform:scaleX(0.855);font-family:'Liberation Serif','Times New Roman',serif;color:#000;width:61.29px;overflow:hidden;">0 days</div>
<div class="t" style="left:600.00px;top:248.92px;font-size:11.0px;line-height:10.0px;transform:scaleX(0.855);font-family:'Liberation Serif','Times New Roman',serif;color:#000;width:72.98px;overflow:hidden;">365 days</div>
<div class="t" style="left:664.00px;top:248.92px;font-size:11.0px;line-height:10.0px;transform:scaleX(0.855);font-family:'Liberation Serif','Times New Roman',serif;color:#000;width:72.98px;overflow:hidden;">0%</div>
<div class="t" style="left:728.00px;top:248.92px;font-size:11.0px;line-height:10.0px;transform:scaleX(0.855);font-family:'Liberation Serif','Times New Roman',serif;color:#000;width:72.98px;overflow:hidden;">Mon 6/3/23</div>
<div class="t" style="left:792.00px;top:248.92px;font-size:11.0px;line-height:10.0px;transform:scaleX(0.855);font-family:'Liberation Serif','Times New Roman',serif;color:#000;width:67.13px;overflow:hidden;">Wed 29/5/24</div>
<div class="t" style="left:851.00px;top:248.92px;font-size:11.0px;line-height:10.0px;transform:scaleX(0.855);font-family:'Liberation Serif','Times New Roman',serif;color:#000;width:67.13px;overflow:hidden;">NA</div>
<div class="t" style="left:910.00px;top:248.92px;font-size:11.0px;line-height:10.0px;transform:scaleX(0.855);font-family:'Liberation Serif','Times New Roman',serif;color:#000;width:61.29px;overflow:hidden;">NA</div>
<div class="t" style="left:964.00px;top:248.92px;font-size:11.0px;line-height:10.0px;transform:scaleX(0.855);font-family:'Liberation Serif','Times New Roman',serif;color:#000;width:78.83px;overflow:hidden;">Mon 6/3/23</div>
<div class="t" style="left:1033.00px;top:248.92px;font-size:11.0px;line-height:10.0px;transform:scaleX(0.855);font-family:'Liberation Serif','Times New Roman',serif;color:#000;width:72.98px;overflow:hidden;">Wed 29/5/24</div>
<div class="t" style="left:1097.00px;top:248.92px;font-size:11.0px;line-height:10.0px;transform:scaleX(0.855);font-family:'Liberation Serif','Times New Roman',serif;color:#000;width:43.74px;overflow:hidden;">0 days</div>
<div class="t c" style="left:104px;width:39px;top:271.84px;font-size:11.0px;line-height:10.0px;transform:scaleX(0.855);font-family:'Liberation Serif','Times New Roman',serif">1548</div>
<div class="t" style="left:172.30px;top:271.84px;font-size:11.0px;line-height:10.0px;transform:scaleX(0.855);font-family:'Liberation Serif','Times New Roman',serif;color:#000;">Establishment work for landscape softwork</div>
<div class="t" style="left:507.00px;top:271.84px;font-size:11.0px;line-height:10.0px;transform:scaleX(0.855);font-family:'Liberation Serif','Times New Roman',serif;color:#000;width:43.74px;overflow:hidden;">365 days</div>
<div class="t" style="left:546.00px;top:271.84px;font-size:11.0px;line-height:10.0px;transform:scaleX(0.855);font-family:'Liberation Serif','Times New Roman',serif;color:#000;width:61.29px;overflow:hidden;">0 days</div>
<div class="t" style="left:600.00px;top:271.84px;font-size:11.0px;line-height:10.0px;transform:scaleX(0.855);font-family:'Liberation Serif','Times New Roman',serif;color:#000;width:72.98px;overflow:hidden;">365 days</div>
<div class="t" style="left:664.00px;top:271.84px;font-size:11.0px;line-height:10.0px;transform:scaleX(0.855);font-family:'Liberation Serif','Times New Roman',serif;color:#000;width:72.98px;overflow:hidden;">0%</div>
<div class="t" style="left:728.00px;top:271.84px;font-size:11.0px;line-height:10.0px;transform:scaleX(0.855);font-family:'Liberation Serif','Times New Roman',serif;color:#000;width:72.98px;overflow:hidden;">Mon 6/3/23</div>
<div class="t" style="left:792.00px;top:271.84px;font-size:11.0px;line-height:10.0px;transform:scaleX(0.855);font-family:'Liberation Serif','Times New Roman',serif;color:#000;width:67.13px;overflow:hidden;">Wed 29/5/24</div>
<div class="t" style="left:851.00px;top:271.84px;font-size:11.0px;line-height:10.0px;transform:scaleX(0.855);font-family:'Liberation Serif','Times New Roman',serif;color:#000;width:67.13px;overflow:hidden;">NA</div>
<div class="t" style="left:910.00px;top:271.84px;font-size:11.0px;line-height:10.0px;transform:scaleX(0.855);font-family:'Liberation Serif','Times New Roman',serif;color:#000;width:61.29px;overflow:hidden;">NA</div>
<div class="t" style="left:964.00px;top:271.84px;font-size:11.0px;line-height:10.0px;transform:scaleX(0.855);font-family:'Liberation Serif','Times New Roman',serif;color:#000;width:78.83px;overflow:hidden;">Mon 6/3/23</div>
<div class="t" style="left:1033.00px;top:271.84px;font-size:11.0px;line-height:10.0px;transform:scaleX(0.855);font-family:'Liberation Serif','Times New Roman',serif;color:#000;width:72.98px;overflow:hidden;">Wed 29/5/24</div>
<div class="t" style="left:1097.00px;top:271.84px;font-size:11.0px;line-height:10.0px;transform:scaleX(0.855);font-family:'Liberation Serif','Times New Roman',serif;color:#000;width:43.74px;overflow:hidden;">0 days</div>
<div class="t" style="left:1136.00px;top:271.84px;font-size:11.0px;line-height:10.0px;transform:scaleX(0.855);font-family:'Liberation Serif','Times New Roman',serif;color:#000;width:48.42px;overflow:hidden;">10 days</div>
<div class="t" style="left:1179.00px;top:271.84px;font-size:11.0px;line-height:10.0px;transform:scaleX(0.855);font-family:'Liberation Serif','Times New Roman',serif;color:#000;width:74.15px;overflow:hidden;">1533,1534</div>
<div class="t c" style="left:104px;width:39px;top:294.76px;font-size:11.0px;line-height:10.0px;transform:scaleX(0.855);font-family:'Liberation Serif','Times New Roman',serif">1549</div>
<div class="t" style="left:172.30px;top:294.76px;font-size:11.0px;line-height:10.0px;transform:scaleX(0.855);font-family:'Liberation Serif','Times New Roman',serif;color:#000;">Planned Completion for Section 7</div>
<div class="t" style="left:507.00px;top:294.76px;font-size:11.0px;line-height:10.0px;transform:scaleX(0.855);font-family:'Liberation Serif','Times New Roman',serif;color:#000;width:43.74px;overflow:hidden;">0 days</div>
<div class="t" style="left:546.00px;top:294.76px;font-size:11.0px;line-height:10.0px;transform:scaleX(0.855);font-family:'Liberation Serif','Times New Roman',serif;color:#000;width:61.29px;overflow:hidden;">0 days</div>
<div class="t" style="left:600.00px;top:294.76px;font-size:11.0px;line-height:10.0px;transform:scaleX(0.855);font-family:'Liberation Serif','Times New Roman',serif;color:#000;width:72.98px;overflow:hidden;">0 days</div>
<div class="t" style="left:664.00px;top:294.76px;font-size:11.0px;line-height:10.0px;transform:scaleX(0.855);font-family:'Liberation Serif','Times New Roman',serif;color:#000;width:72.98px;overflow:hidden;">0%</div>
<div class="t" style="left:728.00px;top:294.76px;font-size:11.0px;line-height:10.0px;transform:scaleX(0.855);font-family:'Liberation Serif','Times New Roman',serif;color:#000;width:72.98px;overflow:hidden;">Wed 29/5/24</div>
<div class="t" style="left:792.00px;top:294.76px;font-size:11.0px;line-height:10.0px;transform:scaleX(0.855);font-family:'Liberation Serif','Times New Roman',serif;color:#000;width:67.13px;overflow:hidden;">Wed 29/5/24</div>
<div class="t" style="left:851.00px;top:294.76px;font-size:11.0px;line-height:10.0px;transform:scaleX(0.855);font-family:'Liberation Serif','Times New Roman',serif;color:#000;width:67.13px;overflow:hidden;">NA</div>
<div class="t" style="left:910.00px;top:294.76px;font-size:11.0px;line-height:10.0px;transform:scaleX(0.855);font-family:'Liberation Serif','Times New Roman',serif;color:#000;width:61.29px;overflow:hidden;">NA</div>
<div class="t" style="left:964.00px;top:294.76px;font-size:11.0px;line-height:10.0px;transform:scaleX(0.855);font-family:'Liberation Serif','Times New Roman',serif;color:#000;width:78.83px;overflow:hidden;">Wed 29/5/24</div>
<div class="t" style="left:1033.00px;top:294.76px;font-size:11.0px;line-height:10.0px;transform:scaleX(0.855);font-family:'Liberation Serif','Times New Roman',serif;color:#000;width:72.98px;overflow:hidden;">Wed 29/5/24</div>
<div class="t" style="left:1097.00px;top:294.76px;font-size:11.0px;line-height:10.0px;transform:scaleX(0.855);font-family:'Liberation Serif','Times New Roman',serif;color:#000;width:43.74px;overflow:hidden;">0 days</div>
<div class="t" style="left:1179.00px;top:294.76px;font-size:11.0px;line-height:10.0px;transform:scaleX(0.855);font-family:'Liberation Serif','Times New Roman',serif;color:#000;width:74.15px;overflow:hidden;">1548,6</div>
<div class="t c" style="left:104px;width:39px;top:317.68px;font-size:11.0px;line-height:10.0px;transform:scaleX(0.855);font-family:'Liberation Serif','Times New Roman',serif">1550</div>
<div class="t" style="left:160.20px;top:317.68px;font-size:11.0px;line-height:10.0px;transform:scaleX(0.855);font-family:'Liberation Serif','Times New Roman',serif;color:#000;">Section 10 (Subject to Excision)</div>
<div class="t" style="left:507.00px;top:317.68px;font-size:11.0px;line-height:10.0px;transform:scaleX(0.855);font-family:'Liberation Serif','Times New Roman',serif;color:#000;width:43.74px;overflow:hidden;">614 days</div>
<div class="t" style="left:546.00px;top:317.68px;font-size:11.0px;line-height:10.0px;transform:scaleX(0.855);font-family:'Liberation Serif','Times New Roman',serif;color:#000;width:61.29px;overflow:hidden;">0 days</div>
<div class="t" style="left:600.00px;top:317.68px;font-size:11.0px;line-height:10.0px;transform:scaleX(0.855);font-family:'Liberation Serif','Times New Roman',serif;color:#000;width:72.98px;overflow:hidden;">614 days</div>
<div class="t" style="left:664.00px;top:317.68px;font-size:11.0px;line-height:10.0px;transform:scaleX(0.855);font-family:'Liberation Serif','Times New Roman',serif;color:#000;width:72.98px;overflow:hidden;">0%</div>
<div class="t" style="left:728.00px;top:317.68px;font-size:11.0px;line-height:10.0px;transform:scaleX(0.855);font-family:'Liberation Serif','Times New Roman',serif;color:#000;width:72.98px;overflow:hidden;">Tue 20/4/21</div>
<div class="t" style="left:792.00px;top:317.68px;font-size:11.0px;line-height:10.0px;transform:scaleX(0.855);font-family:'Liberation Serif','Times New Roman',serif;color:#000;width:67.13px;overflow:hidden;">Thu 11/5/23</div>
<div class="t" style="left:851.00px;top:317.68px;font-size:11.0px;line-height:10.0px;transform:scaleX(0.855);font-family:'Liberation Serif','Times New Roman',serif;color:#000;width:67.13px;overflow:hidden;">NA</div>
<div class="t" style="left:910.00px;top:317.68px;font-size:11.0px;line-height:10.0px;transform:scaleX(0.855);font-family:'Liberation Serif','Times New Roman',serif;color:#000;width:61.29px;overflow:hidden;">NA</div>
<div class="t" style="left:964.00px;top:317.68px;font-size:11.0px;line-height:10.0px;transform:scaleX(0.855);font-family:'Liberation Serif','Times New Roman',serif;color:#000;width:78.83px;overflow:hidden;">Mon 10/5/21</div>
<div class="t" style="left:1033.00px;top:317.68px;font-size:11.0px;line-height:10.0px;transform:scaleX(0.855);font-family:'Liberation Serif','Times New Roman',serif;color:#000;width:72.98px;overflow:hidden;">Tue 30/5/23</div>
<div class="t" style="left:1097.00px;top:317.68px;font-size:11.0px;line-height:10.0px;transform:scaleX(0.855);font-family:'Liberation Serif','Times New Roman',serif;color:#000;width:43.74px;overflow:hidden;">15 days</div>
<div class="t c" style="left:104px;width:39px;top:340.60px;font-size:11.0px;line-height:10.0px;transform:scaleX(0.855);font-family:'Liberation Serif','Times New Roman',serif">1551</div>
<div class="t" style="left:172.30px;top:340.60px;font-size:11.0px;line-height:10.0px;transform:scaleX(0.855);font-family:'Liberation Serif','Times New Roman',serif;color:#000;">Decking for Underpass (Rd L14)</div>
<div class="t" style="left:507.00px;top:340.60px;font-size:11.0px;line-height:10.0px;transform:scaleX(0.855);font-family:'Liberation Serif','Times New Roman',serif;color:#000;width:43.74px;overflow:hidden;">614 days</div>
<div class="t" style="left:546.00px;top:340.60px;font-size:11.0px;line-height:10.0px;transform:scaleX(0.855);font-family:'Liberation Serif','Times New Roman',serif;color:#000;width:61.29px;overflow:hidden;">0 days</div>
<div class="t" style="left:600.00px;top:340.60px;font-size:11.0px;line-height:10.0px;transform:scaleX(0.855);font-family:'Liberation Serif','Times New Roman',serif;color:#000;width:72.98px;overflow:hidden;">614 days</div>
<div class="t" style="left:664.00px;top:340.60px;font-size:11.0px;line-height:10.0px;transform:scaleX(0.855);font-family:'Liberation Serif','Times New Roman',serif;color:#000;width:72.98px;overflow:hidden;">0%</div>
<div class="t" style="left:728.00px;top:340.60px;font-size:11.0px;line-height:10.0px;transform:scaleX(0.855);font-family:'Liberation Serif','Times New Roman',serif;color:#000;width:72.98px;overflow:hidden;">Tue 20/4/21</div>
<div class="t" style="left:792.00px;top:340.60px;font-size:11.0px;line-height:10.0px;transform:scaleX(0.855);font-family:'Liberation Serif','Times New Roman',serif;color:#000;width:67.13px;overflow:hidden;">Thu 11/5/23</div>
<div class="t" style="left:851.00px;top:340.60px;font-size:11.0px;line-height:10.0px;transform:scaleX(0.855);font-family:'Liberation Serif','Times New Roman',serif;color:#000;width:67.13px;overflow:hidden;">NA</div>
<div class="t" style="left:910.00px;top:340.60px;font-size:11.0px;line-height:10.0px;transform:scaleX(0.855);font-family:'Liberation Serif','Times New Roman',serif;color:#000;width:61.29px;overflow:hidden;">NA</div>
<div class="t" style="left:964.00px;top:340.60px;font-size:11.0px;line-height:10.0px;transform:scaleX(0.855);font-family:'Liberation Serif','Times New Roman',serif;color:#000;width:78.83px;overflow:hidden;">Mon 10/5/21</div>
<div class="t" style="left:1033.00px;top:340.60px;font-size:11.0px;line-height:10.0px;transform:scaleX(0.855);font-family:'Liberation Serif','Times New Roman',serif;color:#000;width:72.98px;overflow:hidden;">Tue 30/5/23</div>
<div class="t" style="left:1097.00px;top:340.60px;font-size:11.0px;line-height:10.0px;transform:scaleX(0.855);font-family:'Liberation Serif','Times New Roman',serif;color:#000;width:43.74px;overflow:hidden;">15 days</div>
<div class="t c" style="left:104px;width:39px;top:363.52px;font-size:11.0px;line-height:10.0px;transform:scaleX(0.855);font-family:'Liberation Serif','Times New Roman',serif">1552</div>
<div class="t" style="left:184.40px;top:363.52px;font-size:11.0px;line-height:10.0px;transform:scaleX(0.855);font-family:'Liberation Serif','Times New Roman',serif;color:#000;">Deck for Underpass (Road L14) - Temp. Works Design and Method Statement<br>Submission</div>
<div class="t" style="left:507.00px;top:363.52px;font-size:11.0px;line-height:10.0px;transform:scaleX(0.855);font-family:'Liberation Serif','Times New Roman',serif;color:#000;width:43.74px;overflow:hidden;">0 days</div>
<div class="t" style="left:546.00px;top:363.52px;font-size:11.0px;line-height:10.0px;transform:scaleX(0.855);font-family:'Liberation Serif','Times New Roman',serif;color:#000;width:61.29px;overflow:hidden;">0 days</div>
<div class="t" style="left:600.00px;top:363.52px;font-size:11.0px;line-height:10.0px;transform:scaleX(0.855);font-family:'Liberation Serif','Times New Roman',serif;color:#000;width:72.98px;overflow:hidden;">0 days</div>
<div class="t" style="left:664.00px;top:363.52px;font-size:11.0px;line-height:10.0px;transform:scaleX(0.855);font-family:'Liberation Serif','Times New Roman',serif;color:#000;width:72.98px;overflow:hidden;">0%</div>
<div class="t" style="left:728.00px;top:363.52px;font-size:11.0px;line-height:10.0px;transform:scaleX(0.855);font-family:'Liberation Serif','Times New Roman',serif;color:#000;width:72.98px;overflow:hidden;">Tue 20/4/21</div>
<div class="t" style="left:792.00px;top:363.52px;font-size:11.0px;line-height:10.0px;transform:scaleX(0.855);font-family:'Liberation Serif','Times New Roman',serif;color:#000;width:67.13px;overflow:hidden;">Tue 20/4/21</div>
<div class="t" style="left:851.00px;top:363.52px;font-size:11.0px;line-height:10.0px;transform:scaleX(0.855);font-family:'Liberation Serif','Times New Roman',serif;color:#000;width:67.13px;overflow:hidden;">NA</div>
<div class="t" style="left:910.00px;top:363.52px;font-size:11.0px;line-height:10.0px;transform:scaleX(0.855);font-family:'Liberation Serif','Times New Roman',serif;color:#000;width:61.29px;overflow:hidden;">NA</div>
<div class="t" style="left:964.00px;top:363.52px;font-size:11.0px;line-height:10.0px;transform:scaleX(0.855);font-family:'Liberation Serif','Times New Roman',serif;color:#000;width:78.83px;overflow:hidden;">Mon 10/5/21</div>
<div class="t" style="left:1033.00px;top:363.52px;font-size:11.0px;line-height:10.0px;transform:scaleX(0.855);font-family:'Liberation Serif','Times New Roman',serif;color:#000;width:72.98px;overflow:hidden;">Mon 10/5/21</div>
<div class="t" style="left:1097.00px;top:363.52px;font-size:11.0px;line-height:10.0px;transform:scaleX(0.855);font-family:'Liberation Serif','Times New Roman',serif;color:#000;width:43.74px;overflow:hidden;">20 days</div>
<div class="t" style="left:1136.00px;top:363.52px;font-size:11.0px;line-height:10.0px;transform:scaleX(0.855);font-family:'Liberation Serif','Times New Roman',serif;color:#000;width:48.42px;overflow:hidden;">0.5 day</div>
<div class="t c" style="left:104px;width:39px;top:386.44px;font-size:11.0px;line-height:10.0px;transform:scaleX(0.855);font-family:'Liberation Serif','Times New Roman',serif">1553</div>
<div class="t" style="left:184.40px;top:386.44px;font-size:11.0px;line-height:10.0px;transform:scaleX(0.855);font-family:'Liberation Serif','Times New Roman',serif;color:#000;">Deck for Underpass (Road L14) - Temp. Works Design and Method Statement<br>Comment &amp; Appraoval</div>
<div class="t" style="left:507.00px;top:386.44px;font-size:11.0px;line-height:10.0px;transform:scaleX(0.855);font-family:'Liberation Serif','Times New Roman',serif;color:#000;width:43.74px;overflow:hidden;">21 days</div>
<div class="t" style="left:546.00px;top:386.44px;font-size:11.0px;line-height:10.0px;transform:scaleX(0.855);font-family:'Liberation Serif','Times New Roman',serif;color:#000;width:61.29px;overflow:hidden;">0 days</div>
<div class="t" style="left:600.00px;top:386.44px;font-size:11.0px;line-height:10.0px;transform:scaleX(0.855);font-family:'Liberation Serif','Times New Roman',serif;color:#000;width:72.98px;overflow:hidden;">21 days</div>
<div class="t" style="left:664.00px;top:386.44px;font-size:11.0px;line-height:10.0px;transform:scaleX(0.855);font-family:'Liberation Serif','Times New Roman',serif;color:#000;width:72.98px;overflow:hidden;">0%</div>
<div class="t" style="left:728.00px;top:386.44px;font-size:11.0px;line-height:10.0px;transform:scaleX(0.855);font-family:'Liberation Serif','Times New Roman',serif;color:#000;width:72.98px;overflow:hidden;">Tue 20/4/21</div>
<div class="t" style="left:792.00px;top:386.44px;font-size:11.0px;line-height:10.0px;transform:scaleX(0.855);font-family:'Liberation Serif','Times New Roman',serif;color:#000;width:67.13px;overflow:hidden;">Mon 10/5/21</div>
<div class="t" style="left:851.00px;top:386.44px;font-size:11.0px;line-height:10.0px;transform:scaleX(0.855);font-family:'Liberation Serif','Times New Roman',serif;color:#000;width:67.13px;overflow:hidden;">NA</div>
<div class="t" style="left:910.00px;top:386.44px;font-size:11.0px;line-height:10.0px;transform:scaleX(0.855);font-family:'Liberation Serif','Times New Roman',serif;color:#000;width:61.29px;overflow:hidden;">NA</div>
<div class="t" style="left:964.00px;top:386.44px;font-size:11.0px;line-height:10.0px;transform:scaleX(0.855);font-family:'Liberation Serif','Times New Roman',serif;color:#000;width:78.83px;overflow:hidden;">Mon 10/5/21</div>
<div class="t" style="left:1033.00px;top:386.44px;font-size:11.0px;line-height:10.0px;transform:scaleX(0.855);font-family:'Liberation Serif','Times New Roman',serif;color:#000;width:72.98px;overflow:hidden;">Sun 30/5/21</div>
<div class="t" style="left:1097.00px;top:386.44px;font-size:11.0px;line-height:10.0px;transform:scaleX(0.855);font-family:'Liberation Serif','Times New Roman',serif;color:#000;width:43.74px;overflow:hidden;">20 days</div>
<div class="t" style="left:1136.00px;top:386.44px;font-size:11.0px;line-height:10.0px;transform:scaleX(0.855);font-family:'Liberation Serif','Times New Roman',serif;color:#000;width:48.42px;overflow:hidden;">0.5 day</div>
<div class="t" style="left:1179.00px;top:386.44px;font-size:11.0px;line-height:10.0px;transform:scaleX(0.855);font-family:'Liberation Serif','Times New Roman',serif;color:#000;width:74.15px;overflow:hidden;">1552</div>
<div class="t c" style="left:104px;width:39px;top:409.36px;font-size:11.0px;line-height:10.0px;transform:scaleX(0.855);font-family:'Liberation Serif','Times New Roman',serif">1554</div>
<div class="t" style="left:184.40px;top:409.36px;font-size:11.0px;line-height:10.0px;transform:scaleX(0.855);font-family:'Liberation Serif','Times New Roman',serif;color:#000;">Support along U-through</div>
<div class="t" style="left:507.00px;top:409.36px;font-size:11.0px;line-height:10.0px;transform:scaleX(0.855);font-family:'Liberation Serif','Times New Roman',serif;color:#000;width:43.74px;overflow:hidden;">225 days</div>
<div class="t" style="left:546.00px;top:409.36px;font-size:11.0px;line-height:10.0px;transform:scaleX(0.855);font-family:'Liberation Serif','Times New Roman',serif;color:#000;width:61.29px;overflow:hidden;">0 days</div>
<div class="t" style="left:600.00px;top:409.36px;font-size:11.0px;line-height:10.0px;transform:scaleX(0.855);font-family:'Liberation Serif','Times New Roman',serif;color:#000;width:72.98px;overflow:hidden;">225 days</div>
<div class="t" style="left:664.00px;top:409.36px;font-size:11.0px;line-height:10.0px;transform:scaleX(0.855);font-family:'Liberation Serif','Times New Roman',serif;color:#000;width:72.98px;overflow:hidden;">0%</div>
<div class="t" style="left:728.00px;top:409.36px;font-size:11.0px;line-height:10.0px;transform:scaleX(0.855);font-family:'Liberation Serif','Times New Roman',serif;color:#000;width:72.98px;overflow:hidden;">Mon 31/5/21</div>
<div class="t" style="left:792.00px;top:409.36px;font-size:11.0px;line-height:10.0px;transform:scaleX(0.855);font-family:'Liberation Serif','Times New Roman',serif;color:#000;width:67.13px;overflow:hidden;">Tue 1/3/22</div>
<div class="t" style="left:851.00px;top:409.36px;font-size:11.0px;line-height:10.0px;transform:scaleX(0.855);font-family:'Liberation Serif','Times New Roman',serif;color:#000;width:67.13px;overflow:hidden;">NA</div>
<div class="t" style="left:910.00px;top:409.36px;font-size:11.0px;line-height:10.0px;transform:scaleX(0.855);font-family:'Liberation Serif','Times New Roman',serif;color:#000;width:61.29px;overflow:hidden;">NA</div>
<div class="t" style="left:964.00px;top:409.36px;font-size:11.0px;line-height:10.0px;transform:scaleX(0.855);font-family:'Liberation Serif','Times New Roman',serif;color:#000;width:78.83px;overflow:hidden;">Mon 31/5/21</div>
<div class="t" style="left:1033.00px;top:409.36px;font-size:11.0px;line-height:10.0px;transform:scaleX(0.855);font-family:'Liberation Serif','Times New Roman',serif;color:#000;width:72.98px;overflow:hidden;">Tue 1/3/22</div>
<div class="t" style="left:1097.00px;top:409.36px;font-size:11.0px;line-height:10.0px;transform:scaleX(0.855);font-family:'Liberation Serif','Times New Roman',serif;color:#000;width:43.74px;overflow:hidden;">0 days</div>
<div class="t" style="left:1136.00px;top:409.36px;font-size:11.0px;line-height:10.0px;transform:scaleX(0.855);font-family:'Liberation Serif','Times New Roman',serif;color:#000;width:48.42px;overflow:hidden;">10 days</div>
<div class="t" style="left:1179.00px;top:409.36px;font-size:11.0px;line-height:10.0px;transform:scaleX(0.855);font-family:'Liberation Serif','Times New Roman',serif;color:#000;width:74.15px;overflow:hidden;">23,185,1553,1921</div>
<div class="t c" style="left:104px;width:39px;top:432.28px;font-size:11.0px;line-height:10.0px;transform:scaleX(0.855);font-family:'Liberation Serif','Times New Roman',serif">1555</div>
<div class="t" style="left:184.40px;top:432.28px;font-size:11.0px;line-height:10.0px;transform:scaleX(0.855);font-family:'Liberation Serif','Times New Roman',serif;color:#000;">Plinth installation along support</div>
<div class="t" style="left:507.00px;top:432.28px;font-size:11.0px;line-height:10.0px;transform:scaleX(0.855);font-family:'Liberation Serif','Times New Roman',serif;color:#000;width:43.74px;overflow:hidden;">123 days</div>
<div class="t" style="left:546.00px;top:432.28px;font-size:11.0px;line-height:10.0px;transform:scaleX(0.855);font-family:'Liberation Serif','Times New Roman',serif;color:#000;width:61.29px;overflow:hidden;">0 days</div>
<div class="t" style="left:600.00px;top:432.28px;font-size:11.0px;line-height:10.0px;transform:scaleX(0.855);font-family:'Liberation Serif','Times New Roman',serif;color:#000;width:72.98px;overflow:hidden;">123 days</div>
<div class="t" style="left:664.00px;top:432.28px;font-size:11.0px;line-height:10.0px;transform:scaleX(0.855);font-family:'Liberation Serif','Times New Roman',serif;color:#000;width:72.98px;overflow:hidden;">0%</div>
<div class="t" style="left:728.00px;top:432.28px;font-size:11.0px;line-height:10.0px;transform:scaleX(0.855);font-family:'Liberation Serif','Times New Roman',serif;color:#000;width:72.98px;overflow:hidden;">Wed 2/3/22</div>
<div class="t" style="left:792.00px;top:432.28px;font-size:11.0px;line-height:10.0px;transform:scaleX(0.855);font-family:'Liberation Serif','Times New Roman',serif;color:#000;width:67.13px;overflow:hidden;">Fri 29/7/22</div>
<div class="t" style="left:851.00px;top:432.28px;font-size:11.0px;line-height:10.0px;transform:scaleX(0.855);font-family:'Liberation Serif','Times New Roman',serif;color:#000;width:67.13px;overflow:hidden;">NA</div>
<div class="t" style="left:910.00px;top:432.28px;font-size:11.0px;line-height:10.0px;transform:scaleX(0.855);font-family:'Liberation Serif','Times New Roman',serif;color:#000;width:61.29px;overflow:hidden;">NA</div>
<div class="t" style="left:964.00px;top:432.28px;font-size:11.0px;line-height:10.0px;transform:scaleX(0.855);font-family:'Liberation Serif','Times New Roman',serif;color:#000;width:78.83px;overflow:hidden;">Wed 2/3/22</div>
<div class="t" style="left:1033.00px;top:432.28px;font-size:11.0px;line-height:10.0px;transform:scaleX(0.855);font-family:'Liberation Serif','Times New Roman',serif;color:#000;width:72.98px;overflow:hidden;">Fri 29/7/22</div>
<div class="t" style="left:1097.00px;top:432.28px;font-size:11.0px;line-height:10.0px;transform:scaleX(0.855);font-family:'Liberation Serif','Times New Roman',serif;color:#000;width:43.74px;overflow:hidden;">0 days</div>
<div class="t" style="left:1136.00px;top:432.28px;font-size:11.0px;line-height:10.0px;transform:scaleX(0.855);font-family:'Liberation Serif','Times New Roman',serif;color:#000;width:48.42px;overflow:hidden;">6 days</div>
<div class="t" style="left:1179.00px;top:432.28px;font-size:11.0px;line-height:10.0px;transform:scaleX(0.855);font-family:'Liberation Serif','Times New Roman',serif;color:#000;width:74.15px;overflow:hidden;">1554</div>
<div class="t c" style="left:104px;width:39px;top:455.20px;font-size:11.0px;line-height:10.0px;transform:scaleX(0.855);font-family:'Liberation Serif','Times New Roman',serif">1556</div>
<div class="t" style="left:184.40px;top:455.20px;font-size:11.0px;line-height:10.0px;transform:scaleX(0.855);font-family:'Liberation Serif','Times New Roman',serif;color:#000;">Placing of beam along underpass</div>
<div class="t" style="left:507.00px;top:455.20px;font-size:11.0px;line-height:10.0px;transform:scaleX(0.855);font-family:'Liberation Serif','Times New Roman',serif;color:#000;width:43.74px;overflow:hidden;">90 days</div>
<div class="t" style="left:546.00px;top:455.20px;font-size:11.0px;line-height:10.0px;transform:scaleX(0.855);font-family:'Liberation Serif','Times New Roman',serif;color:#000;width:61.29px;overflow:hidden;">0 days</div>
<div class="t" style="left:600.00px;top:455.20px;font-size:11.0px;line-height:10.0px;transform:scaleX(0.855);font-family:'Liberation Serif','Times New Roman',serif;color:#000;width:72.98px;overflow:hidden;">90 days</div>
<div class="t" style="left:664.00px;top:455.20px;font-size:11.0px;line-height:10.0px;transform:scaleX(0.855);font-family:'Liberation Serif','Times New Roman',serif;color:#000;width:72.98px;overflow:hidden;">0%</div>
<div class="t" style="left:728.00px;top:455.20px;font-size:11.0px;line-height:10.0px;transform:scaleX(0.855);font-family:'Liberation Serif','Times New Roman',serif;color:#000;width:72.98px;overflow:hidden;">Thu 1/9/22</div>
<div class="t" style="left:792.00px;top:455.20px;font-size:11.0px;line-height:10.0px;transform:scaleX(0.855);font-family:'Liberation Serif','Times New Roman',serif;color:#000;width:67.13px;overflow:hidden;">Sun 18/12/22</div>
<div class="t" style="left:851.00px;top:455.20px;font-size:11.0px;line-height:10.0px;transform:scaleX(0.855);font-family:'Liberation Serif','Times New Roman',serif;color:#000;width:67.13px;overflow:hidden;">NA</div>
<div class="t" style="left:910.00px;top:455.20px;font-size:11.0px;line-height:10.0px;transform:scaleX(0.855);font-family:'Liberation Serif','Times New Roman',serif;color:#000;width:61.29px;overflow:hidden;">NA</div>
<div class="t" style="left:964.00px;top:455.20px;font-size:11.0px;line-height:10.0px;transform:scaleX(0.855);font-family:'Liberation Serif','Times New Roman',serif;color:#000;width:78.83px;overflow:hidden;">Thu 1/9/22</div>
<div class="t" style="left:1033.00px;top:455.20px;font-size:11.0px;line-height:10.0px;transform:scaleX(0.855);font-family:'Liberation Serif','Times New Roman',serif;color:#000;width:72.98px;overflow:hidden;">Mon 19/12/22</div>
<div class="t" style="left:1097.00px;top:455.20px;font-size:11.0px;line-height:10.0px;transform:scaleX(0.855);font-family:'Liberation Serif','Times New Roman',serif;color:#000;width:43.74px;overflow:hidden;">0 days</div>
<div class="t" style="left:1136.00px;top:455.20px;font-size:11.0px;line-height:10.0px;transform:scaleX(0.855);font-family:'Liberation Serif','Times New Roman',serif;color:#000;width:48.42px;overflow:hidden;">4 days</div>
<div class="t" style="left:1179.00px;top:455.20px;font-size:11.0px;line-height:10.0px;transform:scaleX(0.855);font-family:'Liberation Serif','Times New Roman',serif;color:#000;width:74.15px;overflow:hidden;">1555FS+28 days</div>
<div class="t c" style="left:104px;width:39px;top:478.12px;font-size:11.0px;line-height:10.0px;transform:scaleX(0.855);font-family:'Liberation Serif','Times New Roman',serif">1557</div>
<div class="t" style="left:184.40px;top:478.12px;font-size:11.0px;line-height:10.0px;transform:scaleX(0.855);font-family:'Liberation Serif','Times New Roman',serif;color:#000;">Finishing and E&amp;M Works</div>
<div class="t" style="left:507.00px;top:478.12px;font-size:11.0px;line-height:10.0px;transform:scaleX(0.855);font-family:'Liberation Serif','Times New Roman',serif;color:#000;width:43.74px;overflow:hidden;">110 days</div>
<div class="t" style="left:546.00px;top:478.12px;font-size:11.0px;line-height:10.0px;transform:scaleX(0.855);font-family:'Liberation Serif','Times New Roman',serif;color:#000;width:61.29px;overflow:hidden;">0 days</div>
<div class="t" style="left:600.00px;top:478.12px;font-size:11.0px;line-height:10.0px;transform:scaleX(0.855);font-family:'Liberation Serif','Times New Roman',serif;color:#000;width:72.98px;overflow:hidden;">110 days</div>
<div class="t" style="left:664.00px;top:478.12px;font-size:11.0px;line-height:10.0px;transform:scaleX(0.855);font-family:'Liberation Serif','Times New Roman',serif;color:#000;width:72.98px;overflow:hidden;">0%</div>
<div class="t" style="left:728.00px;top:478.12px;font-size:11.0px;line-height:10.0px;transform:scaleX(0.855);font-family:'Liberation Serif','Times New Roman',serif;color:#000;width:72.98px;overflow:hidden;">Mon 19/12/22</div>
<div class="t" style="left:792.00px;top:478.12px;font-size:11.0px;line-height:10.0px;transform:scaleX(0.855);font-family:'Liberation Serif','Times New Roman',serif;color:#000;width:67.13px;overflow:hidden;">Fri 5/5/23</div>
<div class="t" style="left:851.00px;top:478.12px;font-size:11.0px;line-height:10.0px;transform:scaleX(0.855);font-family:'Liberation Serif','Times New Roman',serif;color:#000;width:67.13px;overflow:hidden;">NA</div>
<div class="t" style="left:910.00px;top:478.12px;font-size:11.0px;line-height:10.0px;transform:scaleX(0.855);font-family:'Liberation Serif','Times New Roman',serif;color:#000;width:61.29px;overflow:hidden;">NA</div>
<div class="t" style="left:964.00px;top:478.12px;font-size:11.0px;line-height:10.0px;transform:scaleX(0.855);font-family:'Liberation Serif','Times New Roman',serif;color:#000;width:78.83px;overflow:hidden;">Thu 12/1/23</div>
<div class="t" style="left:1033.00px;top:478.12px;font-size:11.0px;line-height:10.0px;transform:scaleX(0.855);font-family:'Liberation Serif','Times New Roman',serif;color:#000;width:72.98px;overflow:hidden;">Tue 30/5/23</div>
<div class="t" style="left:1097.00px;top:478.12px;font-size:11.0px;line-height:10.0px;transform:scaleX(0.855);font-family:'Liberation Serif','Times New Roman',serif;color:#000;width:43.74px;overflow:hidden;">20 days</div>
<div class="t" style="left:1179.00px;top:478.12px;font-size:11.0px;line-height:10.0px;transform:scaleX(0.855);font-family:'Liberation Serif','Times New Roman',serif;color:#000;width:74.15px;overflow:hidden;">1556,279</div>
<div class="t c" style="left:104px;width:39px;top:501.04px;font-size:11.0px;line-height:10.0px;transform:scaleX(0.855);font-family:'Liberation Serif','Times New Roman',serif">1558</div>
<div class="t" style="left:184.40px;top:501.04px;font-size:11.0px;line-height:10.0px;transform:scaleX(0.855);font-family:'Liberation Serif','Times New Roman',serif;color:#000;">Cover-up (Roof)</div>
<div class="t" style="left:507.00px;top:501.04px;font-size:11.0px;line-height:10.0px;transform:scaleX(0.855);font-family:'Liberation Serif','Times New Roman',serif;color:#000;width:43.74px;overflow:hidden;">115 days</div>
<div class="t" style="left:546.00px;top:501.04px;font-size:11.0px;line-height:10.0px;transform:scaleX(0.855);font-family:'Liberation Serif','Times New Roman',serif;color:#000;width:61.29px;overflow:hidden;">0 days</div>
<div class="t" style="left:600.00px;top:501.04px;font-size:11.0px;line-height:10.0px;transform:scaleX(0.855);font-family:'Liberation Serif','Times New Roman',serif;color:#000;width:72.98px;overflow:hidden;">115 days</div>
<div class="t" style="left:664.00px;top:501.04px;font-size:11.0px;line-height:10.0px;transform:scaleX(0.855);font-family:'Liberation Serif','Times New Roman',serif;color:#000;width:72.98px;overflow:hidden;">0%</div>
<div class="t" style="left:728.00px;top:501.04px;font-size:11.0px;line-height:10.0px;transform:scaleX(0.855);font-family:'Liberation Serif','Times New Roman',serif;color:#000;width:72.98px;overflow:hidden;">Mon 19/12/22</div>
<div class="t" style="left:792.00px;top:501.04px;font-size:11.0px;line-height:10.0px;transform:scaleX(0.855);font-family:'Liberation Serif','Times New Roman',serif;color:#000;width:67.13px;overflow:hidden;">Thu 11/5/23</div>
<div class="t" style="left:851.00px;top:501.04px;font-size:11.0px;line-height:10.0px;transform:scaleX(0.855);font-family:'Liberation Serif','Times New Roman',serif;color:#000;width:67.13px;overflow:hidden;">NA</div>
<div class="t" style="left:910.00px;top:501.04px;font-size:11.0px;line-height:10.0px;transform:scaleX(0.855);font-family:'Liberation Serif','Times New Roman',serif;color:#000;width:61.29px;overflow:hidden;">NA</div>
<div class="t" style="left:964.00px;top:501.04px;font-size:11.0px;line-height:10.0px;transform:scaleX(0.855);font-family:'Liberation Serif','Times New Roman',serif;color:#000;width:78.83px;overflow:hidden;">Mon 19/12/22</div>
<div class="t" style="left:1033.00px;top:501.04px;font-size:11.0px;line-height:10.0px;transform:scaleX(0.855);font-family:'Liberation Serif','Times New Roman',serif;color:#000;width:72.98px;overflow:hidden;">Thu 11/5/23</div>
<div class="t" style="left:1097.00px;top:501.04px;font-size:11.0px;line-height:10.0px;transform:scaleX(0.855);font-family:'Liberation Serif','Times New Roman',serif;color:#000;width:43.74px;overflow:hidden;">0 days</div>
<div class="t" style="left:1136.00px;top:501.04px;font-size:11.0px;line-height:10.0px;transform:scaleX(0.855);font-family:'Liberation Serif','Times New Roman',serif;color:#000;width:48.42px;overflow:hidden;">5 days</div>
<div class="t" style="left:1179.00px;top:501.04px;font-size:11.0px;line-height:10.0px;transform:scaleX(0.855);font-family:'Liberation Serif','Times New Roman',serif;color:#000;width:74.15px;overflow:hidden;">1556</div>
<div class="t c" style="left:104px;width:39px;top:523.96px;font-size:11.0px;line-height:10.0px;transform:scaleX(0.855);font-family:'Liberation Serif','Times New Roman',serif">1559</div>
<div class="t" style="left:172.30px;top:523.96px;font-size:11.0px;line-height:10.0px;transform:scaleX(0.855);font-family:'Liberation Serif','Times New Roman',serif;color:#000;">Planned Completion for Section 10</div>
<div class="t" style="left:507.00px;top:523.96px;font-size:11.0px;line-height:10.0px;transform:scaleX(0.855);font-family:'Liberation Serif','Times New Roman',serif;color:#000;width:43.74px;overflow:hidden;">0 days</div>
<div class="t" style="left:546.00px;top:523.96px;font-size:11.0px;line-height:10.0px;transform:scaleX(0.855);font-family:'Liberation Serif','Times New Roman',serif;color:#000;width:61.29px;overflow:hidden;">0 days</div>
<div class="t" style="left:600.00px;top:523.96px;font-size:11.0px;line-height:10.0px;transform:scaleX(0.855);font-family:'Liberation Serif','Times New Roman',serif;color:#000;width:72.98px;overflow:hidden;">0 days</div>
<div class="t" style="left:664.00px;top:523.96px;font-size:11.0px;line-height:10.0px;transform:scaleX(0.855);font-family:'Liberation Serif','Times New Roman',serif;color:#000;width:72.98px;overflow:hidden;">0%</div>
<div class="t" style="left:728.00px;top:523.96px;font-size:11.0px;line-height:10.0px;transform:scaleX(0.855);font-family:'Liberation Serif','Times New Roman',serif;color:#000;width:72.98px;overflow:hidden;">Thu 11/5/23</div>
<div class="t" style="left:792.00px;top:523.96px;font-size:11.0px;line-height:10.0px;transform:scaleX(0.855);font-family:'Liberation Serif','Times New Roman',serif;color:#000;width:67.13px;overflow:hidden;">Thu 11/5/23</div>
<div class="t" style="left:851.00px;top:523.96px;font-size:11.0px;line-height:10.0px;transform:scaleX(0.855);font-family:'Liberation Serif','Times New Roman',serif;color:#000;width:67.13px;overflow:hidden;">NA</div>
<div class="t" style="left:910.00px;top:523.96px;font-size:11.0px;line-height:10.0px;transform:scaleX(0.855);font-family:'Liberation Serif','Times New Roman',serif;color:#000;width:61.29px;overflow:hidden;">NA</div>
<div class="t" style="left:964.00px;top:523.96px;font-size:11.0px;line-height:10.0px;transform:scaleX(0.855);font-family:'Liberation Serif','Times New Roman',serif;color:#000;width:78.83px;overflow:hidden;">Tue 30/5/23</div>
<div class="t" style="left:1033.00px;top:523.96px;font-size:11.0px;line-height:10.0px;transform:scaleX(0.855);font-family:'Liberation Serif','Times New Roman',serif;color:#000;width:72.98px;overflow:hidden;">Tue 30/5/23</div>
<div class="t" style="left:1097.00px;top:523.96px;font-size:11.0px;line-height:10.0px;transform:scaleX(0.855);font-family:'Liberation Serif','Times New Roman',serif;color:#000;width:43.74px;overflow:hidden;">19 days</div>
<div class="t" style="left:1136.00px;top:523.96px;font-size:11.0px;line-height:10.0px;transform:scaleX(0.855);font-family:'Liberation Serif','Times New Roman',serif;color:#000;width:48.42px;overflow:hidden;">0.5 days</div>
<div class="t" style="left:1179.00px;top:523.96px;font-size:11.0px;line-height:10.0px;transform:scaleX(0.855);font-family:'Liberation Serif','Times New Roman',serif;color:#000;width:74.15px;overflow:hidden;">1558,158,1557</div>
<div class="t" style="left:1606.01px;top:227.80px;font-size:11.6px;line-height:10px;transform:scaleX(0.76);font-family:'Liberation Serif','Times New Roman',serif">18/5</div>
<div class="t" style="left:1370.59px;top:365.72px;font-size:11.6px;line-height:10px;transform:scaleX(0.76);font-family:'Liberation Serif','Times New Roman',serif">20/4</div>
<div class="t" style="left:1604.04px;top:525.96px;font-size:11.6px;line-height:10px;transform:scaleX(0.76);font-family:'Liberation Serif','Times New Roman',serif">11/5</div>
<div class="t" style="left:110.3px;top:1154.4px;font-family:'Liberation Sans',Arial,sans-serif;font-size:10.75px;line-height:15.8px;color:#111">Title; Rev.11 Prog with Progress<br>&nbsp;as of 22-May-20</div>
<div class="t" style="left:321.20px;top:1150.73px;font-size:9.1px;line-height:10.0px;transform:scaleX(0.905);font-family:'Liberation Serif','Times New Roman',serif">Task</div>
<div class="t" style="left:321.20px;top:1165.73px;font-size:9.1px;line-height:10.0px;transform:scaleX(0.905);font-family:'Liberation Serif','Times New Roman',serif">Split</div>
<div class="t" style="left:321.20px;top:1180.73px;font-size:9.1px;line-height:10.0px;transform:scaleX(0.905);font-family:'Liberation Serif','Times New Roman',serif">Milestone</div>
<div class="t" style="left:502.50px;top:1150.73px;font-size:9.1px;line-height:10.0px;transform:scaleX(0.905);font-family:'Liberation Serif','Times New Roman',serif">Summary</div>
<div class="t" style="left:502.50px;top:1165.73px;font-size:9.1px;line-height:10.0px;transform:scaleX(0.905);font-family:'Liberation Serif','Times New Roman',serif">Project Summary</div>
<div class="t" style="left:502.50px;top:1180.73px;font-size:9.1px;line-height:10.0px;transform:scaleX(0.905);font-family:'Liberation Serif','Times New Roman',serif">Inactive Task</div>
<div class="t" style="left:683.90px;top:1150.73px;font-size:9.1px;line-height:10.0px;transform:scaleX(0.905);font-family:'Liberation Serif','Times New Roman',serif">Inactive Milestone</div>
<div class="t" style="left:683.90px;top:1165.73px;font-size:9.1px;line-height:10.0px;transform:scaleX(0.905);font-family:'Liberation Serif','Times New Roman',serif">Inactive Summary</div>
<div class="t" style="left:683.90px;top:1180.73px;font-size:9.1px;line-height:10.0px;transform:scaleX(0.905);font-family:'Liberation Serif','Times New Roman',serif">Manual Task</div>
<div class="t" style="left:865.40px;top:1150.73px;font-size:9.1px;line-height:10.0px;transform:scaleX(0.905);font-family:'Liberation Serif','Times New Roman',serif">Duration-only</div>
<div class="t" style="left:865.40px;top:1165.73px;font-size:9.1px;line-height:10.0px;transform:scaleX(0.905);font-family:'Liberation Serif','Times New Roman',serif">Manual Summary Rollup</div>
<div class="t" style="left:865.40px;top:1180.73px;font-size:9.1px;line-height:10.0px;transform:scaleX(0.905);font-family:'Liberation Serif','Times New Roman',serif">Manual Summary</div>
<div class="t" style="left:1046.80px;top:1150.73px;font-size:9.1px;line-height:10.0px;transform:scaleX(0.905);font-family:'Liberation Serif','Times New Roman',serif">Start-only</div>
<div class="t" style="left:1046.80px;top:1165.73px;font-size:9.1px;line-height:10.0px;transform:scaleX(0.905);font-family:'Liberation Serif','Times New Roman',serif">Finish-only</div>
<div class="t" style="left:1046.80px;top:1180.73px;font-size:9.1px;line-height:10.0px;transform:scaleX(0.905);font-family:'Liberation Serif','Times New Roman',serif">External Tasks</div>
<div class="t" style="left:1227.80px;top:1150.73px;font-size:9.1px;line-height:10.0px;transform:scaleX(0.905);font-family:'Liberation Serif','Times New Roman',serif">External Milestone</div>
<div class="t" style="left:1227.80px;top:1165.73px;font-size:9.1px;line-height:10.0px;transform:scaleX(0.905);font-family:'Liberation Serif','Times New Roman',serif">Deadline</div>
<div class="t" style="left:1227.80px;top:1180.73px;font-size:9.1px;line-height:10.0px;transform:scaleX(0.905);font-family:'Liberation Serif','Times New Roman',serif">Critical</div>
<div class="t" style="left:1409.20px;top:1150.73px;font-size:9.1px;line-height:10.0px;transform:scaleX(0.905);font-family:'Liberation Serif','Times New Roman',serif">Critical Split</div>
<div class="t" style="left:1409.20px;top:1165.73px;font-size:9.1px;line-height:10.0px;transform:scaleX(0.905);font-family:'Liberation Serif','Times New Roman',serif">Progress</div>
<div class="t" style="left:1409.20px;top:1180.73px;font-size:9.1px;line-height:10.0px;transform:scaleX(0.905);font-family:'Liberation Serif','Times New Roman',serif">Manual Progress</div>
<div class="t" style="left:883.9px;top:1201.9px;font-size:11.1px;line-height:12px;font-family:'Liberation Serif','Times New Roman',serif">Page 36 of 36</div>
</div>
</body></html>
